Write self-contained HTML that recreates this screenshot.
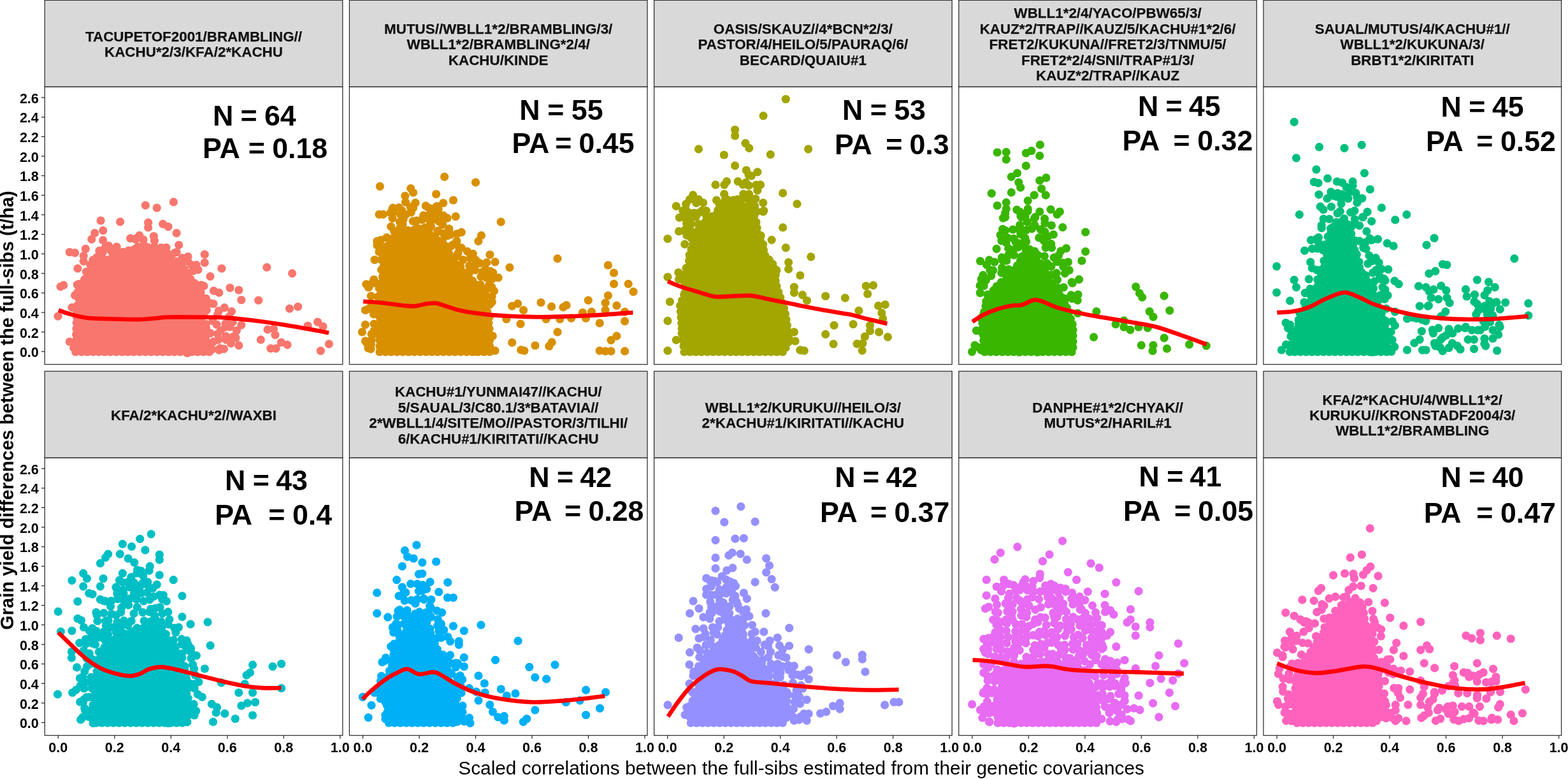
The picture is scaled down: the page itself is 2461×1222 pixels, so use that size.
<!DOCTYPE html><html><head><meta charset="utf-8"><title>Grain yield differences between full-sibs</title><style>html,body{margin:0;padding:0;background:#fff;overflow:hidden}svg{display:block}text{font-family:"Liberation Sans",Arial,sans-serif}</style></head><body>
<svg width="2461" height="1222" viewBox="0 0 2461 1222">
<rect width="2461" height="1222" fill="#fff"/>
<defs>
<clipPath id="c0"><rect x="70.2" y="136.3" width="467.6" height="435.3"/></clipPath>
<clipPath id="c1"><rect x="548.4" y="136.3" width="467.6" height="435.3"/></clipPath>
<clipPath id="c2"><rect x="1026.6" y="136.3" width="467.6" height="435.3"/></clipPath>
<clipPath id="c3"><rect x="1504.8" y="136.3" width="467.6" height="435.3"/></clipPath>
<clipPath id="c4"><rect x="1983" y="136.3" width="467.6" height="435.3"/></clipPath>
<clipPath id="c5"><rect x="70.2" y="718.3" width="467.6" height="435.3"/></clipPath>
<clipPath id="c6"><rect x="548.4" y="718.3" width="467.6" height="435.3"/></clipPath>
<clipPath id="c7"><rect x="1026.6" y="718.3" width="467.6" height="435.3"/></clipPath>
<clipPath id="c8"><rect x="1504.8" y="718.3" width="467.6" height="435.3"/></clipPath>
<clipPath id="c9"><rect x="1983" y="718.3" width="467.6" height="435.3"/></clipPath>
</defs>
<rect x="70.2" y="0.4" width="467.6" height="135.9" fill="#D9D9D9" stroke="#333" stroke-width="1.3"/>
<text x="304" y="64.9" font-size="22.4" font-weight="bold" fill="#111" stroke="#111" stroke-width="0.25" text-anchor="middle">TACUPETOF2001/BRAMBLING//</text>
<text x="304" y="89.3" font-size="22.4" font-weight="bold" fill="#111" stroke="#111" stroke-width="0.25" text-anchor="middle">KACHU*2/3/KFA/2*KACHU</text>
<rect x="70.2" y="136.3" width="467.6" height="435.3" fill="#fff"/>
<g clip-path="url(#c0)" fill="#F8766D">
<path d="M118.8 552 331.2 552 324.2 532.2 314.4 512.6 314.2 512 314 511.4 313.8 510.8 313.8 510.1 313.8 509.5 313.9 508.8 318.7 479.9 314.2 452.8 295.6 434.2 295.1 433.7 294.7 433.2 294.4 432.6 285.3 414.4 267.2 405.3 247.2 395.4 229.2 386.4 211.4 390.8 192.1 395.6 153 415.2 140.1 423.8 130.7 451.8 121 480.9 118.8 552Z"/>
<path d="M118.8 552h0M127.9 552h0M137 552h0M146.1 552h0M155.2 552h0M164.3 552h0M173.4 552h0M182.6 552h0M191.7 552h0M200.8 552h0M209.9 552h0M219 552h0M228.1 552h0M237.2 552h0M246.4 552h0M255.5 552h0M264.6 552h0M273.7 552h0M282.8 552h0M291.9 552h0M301 552h0M310.2 552h0M319.3 552h0M328.4 552h0M329.1 546.1h0M326.1 537.5h0M322.7 529.1h0M318.6 520.9h0M314.5 512.8h0M314.7 503.8h0M316.2 494.9h0M317.7 485.9h0M318.2 476.9h0M316.7 467.9h0M315.2 458.9h0M312.1 450.7h0M305.7 444.3h0M299.2 437.8h0M293.5 430.8h0M289.5 422.7h0M285.4 414.5h0M277.3 410.4h0M269.1 406.3h0M261 402.2h0M252.8 398.2h0M244.7 394.1h0M236.5 390h0M228.3 386.6h0M219.4 388.8h0M210.6 391h0M201.7 393.2h0M192.9 395.4h0M184.7 399.3h0M176.5 403.4h0M168.4 407.5h0M160.2 411.6h0M152.1 415.8h0M144.6 420.8h0M138.9 427.3h0M136 436h0M133.1 444.6h0M130.2 453.3h0M127.4 461.9h0M124.5 470.6h0M121.6 479.2h0M120.8 488.2h0M120.5 497.3h0M120.2 506.4h0M119.9 515.6h0M119.6 524.7h0M119.3 533.8h0M119 542.9h0" stroke="#F8766D" stroke-width="13.2" stroke-linecap="round" fill="none"/>
<path d="M204.6 373.8h0M213.9 374h0M225 376h0M242.4 377.7h0M165.2 388.3h0M170.6 385.7h0M183.1 387.2h0M216.3 387.1h0M224.2 385.9h0M232.2 387.8h0M242.4 387.2h0M252.7 388.6h0M260.9 388.4h0M155.9 393.4h0M161.1 395.9h0M174.2 393.2h0M184.1 398.9h0M250.6 392.5h0M262.1 396.9h0M274.1 396.7h0M145.9 407.8h0M151.9 403.7h0M161.2 405.8h0M285.9 404.6h0M141.8 415.4h0M151.6 415.5h0M300.3 415.5h0M135.4 426.3h0M295.1 428.7h0M303.3 424.9h0M310.9 423.2h0M132.5 438.4h0M123.7 445.7h0M316 447h0M320 448.7h0M121.8 458.4h0M323.4 468.3h0M321.7 475.8h0M330.6 475.9h0M324.2 486.5h0M343.4 487.5h0M352.3 482.6h0M363.6 488.7h0M319.8 495.3h0M341.4 494h0M359.8 496.8h0M315.5 507.4h0M323.2 508.3h0M334.1 503.5h0M340.1 509h0M354 507.6h0M362.9 504.6h0M315.2 513.4h0M323.5 514.3h0M346.2 519.2h0M353.8 513.2h0M361 512.6h0M371.4 518.5h0M330.1 522.6h0M341.5 523.8h0M355 527.7h0M366.1 528.1h0M334.9 536.1h0M342.3 533.2h0M354.7 532.8h0M362.4 538.7h0M115.7 545.7h0M333 547.8h0M345.1 546.4h0M351.4 547.3h0" stroke="#F8766D" stroke-width="13.2" stroke-linecap="round" fill="none"/>
<path d="M272.4 316.9h0M228.3 322.1h0M246.2 326h0M158.1 346h0M188.6 347.9h0M232.6 349.1h0M232.6 356.9h0M255.7 351.4h0M264 355.7h0M277.1 365.7h0M161.7 361.7h0M148.6 365.7h0M143.8 375.3h0M161.7 376.9h0M241.4 370.5h0M218.8 369.3h0M212.9 375.3h0M280.7 384.3h0M277.1 395.5h0M109.3 395.5h0M117.6 396.7h0M134.3 390.3h0M131.2 401.4h0M131.2 409.8h0M153.3 407.4h0M121.9 421.2h0M295 402.6h0M295 409.8h0M308.1 415.7h0M321.2 399.1h0M321.2 412.2h0M347.9 421.2h0M330 433.6h0M418.8 419.3h0M458.6 428.8h0M95 449.6h0M99.8 447.4h0M121.2 446.7h0M117.6 463.4h0M112.9 482.4h0M91 496.2h0M335.5 456.2h0M343.8 459.1h0M361 451.5h0M374.8 455h0M378.8 470.5h0M405.7 471.2h0M335 476.5h0M454.5 484.1h0M467.6 481.2h0M498.6 505h0M506.9 512.2h0M483.1 511h0M378.8 509.8h0M365.2 505h0M420 516.9h0M429.5 515.8h0M431.9 525.3h0M370 530h0M353.3 530h0M409.3 532.9h0M374.8 541.9h0M441.4 537.2h0M451 540.8h0M424.8 546.7h0M433.1 546.7h0M516.4 539.6h0M503.3 550.3h0M343.8 549.1h0M109.3 536h0M293.8 553.9h0M315.2 549.1h0" stroke="#F8766D" stroke-width="13.2" stroke-linecap="round" fill="none"/>
<path d="M91.9 486.5C94.5 487.4 100.2 490 107.4 492C114.6 494 124.2 497 134.9 498.4C145.6 499.8 157.7 499.8 171.4 500.2C185.1 500.6 204.9 501.2 217.1 501.1C229.3 501 237 499.9 244.6 499.3C252.2 498.7 252.1 497.8 262.8 497.5C273.5 497.2 293.4 497.4 308.6 497.5C323.9 497.6 339.1 497.5 354.3 498.4C369.5 499.3 384.8 501.2 400 503C415.2 504.8 432 507.3 445.7 509.4C459.4 511.5 470.6 513.7 482.3 515.8C494 517.9 510.5 521.1 516.1 522.2" stroke="#FF0000" stroke-width="6.6" fill="none" stroke-linejoin="round"/>
</g>
<rect x="70.2" y="136.3" width="467.6" height="435.3" fill="none" stroke="#333" stroke-width="1.3"/>
<text x="333.9" y="196.8" font-size="44.7" font-weight="bold" fill="#000">N</text>
<text x="377.5" y="196.8" font-size="44.7" font-weight="bold" fill="#000">=</text>
<text x="415" y="196.8" font-size="44.7" font-weight="bold" fill="#000">64</text>
<text x="318" y="248.3" font-size="44.7" font-weight="bold" fill="#000">PA</text>
<text x="389.7" y="248.3" font-size="44.7" font-weight="bold" fill="#000">=</text>
<text x="427.2" y="248.3" font-size="44.7" font-weight="bold" fill="#000">0.18</text>
<rect x="548.4" y="0.4" width="467.6" height="135.9" fill="#D9D9D9" stroke="#333" stroke-width="1.3"/>
<text x="782.2" y="52.7" font-size="22.4" font-weight="bold" fill="#111" stroke="#111" stroke-width="0.25" text-anchor="middle">MUTUS//WBLL1*2/BRAMBLING/3/</text>
<text x="782.2" y="77.1" font-size="22.4" font-weight="bold" fill="#111" stroke="#111" stroke-width="0.25" text-anchor="middle">WBLL1*2/BRAMBLING*2/4/</text>
<text x="782.2" y="101.5" font-size="22.4" font-weight="bold" fill="#111" stroke="#111" stroke-width="0.25" text-anchor="middle">KACHU/KINDE</text>
<rect x="548.4" y="136.3" width="467.6" height="435.3" fill="#fff"/>
<g clip-path="url(#c1)" fill="#D89000">
<path d="M595.9 552 768.6 552 768.6 520.2 763.7 481.2 754.4 453.2 715.4 414.2 714.8 413.5 699.8 393.6 685.6 374.5 663 361 640.9 361 618.9 369.8 605.6 391.9 600.8 430.6 595.9 480.2 595.9 552Z"/>
<path d="M595.9 552h0M605 552h0M614 552h0M623.1 552h0M632.2 552h0M641.3 552h0M650.4 552h0M659.5 552h0M668.6 552h0M677.7 552h0M686.8 552h0M695.9 552h0M705 552h0M714.1 552h0M723.2 552h0M732.3 552h0M741.4 552h0M750.5 552h0M759.6 552h0M768.6 551.9h0M768.6 542.8h0M768.6 533.7h0M768.6 524.6h0M768 515.6h0M766.9 506.6h0M765.7 497.5h0M764.6 488.5h0M763.2 479.6h0M760.3 470.9h0M757.4 462.3h0M754.5 453.7h0M748.3 447.1h0M741.9 440.7h0M735.4 434.3h0M729 427.8h0M722.6 421.4h0M716.2 415h0M710.5 407.8h0M705.1 400.6h0M699.6 393.3h0M694.2 386h0M688.7 378.7h0M682.3 372.5h0M674.5 367.9h0M666.7 363.2h0M658.2 361h0M649.1 361h0M640.1 361.4h0M631.6 364.7h0M623.2 368.1h0M616.6 373.7h0M611.9 381.5h0M607.2 389.3h0M604.9 397.9h0M603.8 406.9h0M602.6 415.9h0M601.5 425h0M600.5 434h0M599.6 443h0M598.7 452.1h0M597.8 461.1h0M596.9 470.2h0M596 479.2h0M595.9 488.3h0M595.9 497.4h0M595.9 506.5h0M595.9 515.6h0M595.9 524.7h0M595.9 533.8h0M595.9 542.9h0" stroke="#D89000" stroke-width="13.2" stroke-linecap="round" fill="none"/>
<path d="M636.5 317.2h0M652 318.2h0M615.8 328.3h0M626.1 325.7h0M644.2 324.8h0M668.2 322.9h0M677.2 327.5h0M688 328.1h0M616.7 333.5h0M628.6 336.5h0M645.2 333.2h0M664.6 337.9h0M672.7 338.1h0M684 336.2h0M695.8 338.2h0M616 342.3h0M627.6 348.2h0M633.1 344.3h0M648.1 346.8h0M653.9 346h0M663.7 343.4h0M675.2 347.7h0M688.8 347.4h0M694.1 347.4h0M628.4 355.8h0M658.5 358.9h0M667 356.8h0M676.5 355.1h0M694.7 352.3h0M704.9 358.9h0M618.7 362.6h0M622 366.2h0M672.5 363.1h0M686.7 363.5h0M696.1 366h0M707.7 367.9h0M717 366.9h0M597.8 376.6h0M606.8 372.6h0M687.7 377.3h0M694.3 377.6h0M716.9 378.2h0M598.7 388h0M607 386.5h0M697.7 385h0M707 386.5h0M724.1 388.7h0M595 395.2h0M704.9 397.8h0M718.8 397.4h0M733.4 394.3h0M588 407.5h0M598.4 407.4h0M708.4 403.6h0M715.9 402.6h0M726.7 407.6h0M737.8 404.9h0M746.8 407.9h0M722.7 417.8h0M736.6 416.9h0M742.8 418h0M753.2 412.9h0M598.7 423.2h0M737.3 426.7h0M745.9 423.6h0M757.4 426.5h0M762 422.6h0M773.7 427.6h0M586.8 438.5h0M754.8 433.8h0M773 437.3h0M578.2 447.2h0M585 444.2h0M754.1 446.6h0M767.7 446.7h0M595 452.1h0M764 453.3h0M775.4 456.5h0M582.3 464.3h0M593 465.5h0M762.3 462.7h0M772 465.3h0M583.2 476.1h0M594.5 475.2h0M768.9 477.5h0M772.3 473.7h0M578.4 484.3h0M586.1 484h0M586.5 492.9h0M768.2 497.1h0M587 508.1h0M587.6 517.4h0M583.1 524h0M591.9 523.7h0M773.3 527h0M575.4 537.6h0M583.2 532.9h0M577.9 546.1h0M582 547.3h0" stroke="#D89000" stroke-width="13.2" stroke-linecap="round" fill="none"/>
<path d="M697.6 277.3h0M746.5 286.2h0M596.3 292.3h0M644.7 295.6h0M648.5 302h0M635.8 307.3h0M684.6 304.5h0M711.4 314h0M695.6 318.5h0M685.4 323.6h0M616.7 326.2h0M612.9 333.8h0M595.1 336.4h0M601.4 336.4h0M630.7 330h0M637.1 336.4h0M648.5 326.2h0M672.7 326.2h0M682.9 338.9h0M682.9 344h0M702 342.2h0M715.2 339.7h0M662 344.7h0M786.2 348.1h0M613.7 355.4h0M632 351.6h0M653.6 358h0M675.2 356.7h0M687.4 361.8h0M702 369.9h0M724.3 364.3h0M755.4 369.4h0M750.8 378.3h0M591.8 378.3h0M591.8 384.7h0M621.8 392.3h0M615.4 400h0M710.9 383.9h0M721 389.8h0M742.2 398.2h0M768.9 399.5h0M763.8 411.9h0M777 410.9h0M799.9 419.6h0M875 405.6h0M954.4 416h0M963.5 428h0M963.5 445.3h0M986.2 445.3h0M994.1 457.7h0M574.7 445.8h0M578.5 450.9h0M586.2 441.2h0M595.1 445.8h0M769.4 425.4h0M763 435.6h0M782.1 435.6h0M771.9 450.4h0M755.4 453.9h0M573.4 486.5h0M812.6 476.3h0M803.7 480.1h0M821.6 486.5h0M849 474.5h0M865.6 480.9h0M883.9 481.9h0M889 478.9h0M923.3 471.2h0M954.4 463.6h0M950.1 475.1h0M967.9 479.4h0M950.1 486.5h0M980.6 489.1h0M914.4 490.3h0M928.4 489.1h0M919.5 499.2h0M794.8 500.5h0M857.2 500.5h0M878.8 500.5h0M896.6 499.2h0M941.2 506.9h0M980.6 503.8h0M817 508.1h0M573.4 509.4h0M568.4 520.9h0M875 520.9h0M967.9 527.2h0M959 533.6h0M573.4 534.9h0M582.4 540h0M803.7 537.4h0M866.1 536.9h0M861.8 543h0M839.9 542h0M817.7 548.9h0M822.8 550.1h0M941.2 550.1h0M950.1 550.9h0M959 550.9h0M980.6 550.9h0M746.5 551.4h0M777 550.1h0" stroke="#D89000" stroke-width="13.2" stroke-linecap="round" fill="none"/>
<path d="M570.1 472.9C574.5 473.2 586.1 473.6 596.6 474.7C607.1 475.8 624 478.4 633.1 479.3C642.2 480.2 645.3 480.7 651.4 480.2C657.5 479.7 664.2 477.3 669.7 476.5C675.2 475.7 679.7 475.1 684.3 475.6C688.9 476.1 690.4 477.3 697.1 479.3C703.8 481.3 713.9 485.2 724.6 487.5C735.3 489.8 748.9 491.6 761.1 493C773.3 494.4 782.5 495 797.7 495.7C813 496.4 834.3 497.2 852.6 497.2C870.9 497.2 892.2 496.2 907.4 495.7C922.6 495.1 929.7 494.8 944 493.9C958.3 493 985.2 490.8 993.4 490.2" stroke="#FF0000" stroke-width="6.6" fill="none" stroke-linejoin="round"/>
</g>
<rect x="548.4" y="136.3" width="467.6" height="435.3" fill="none" stroke="#333" stroke-width="1.3"/>
<text x="815.3" y="187.9" font-size="44.7" font-weight="bold" fill="#000">N</text>
<text x="859.3" y="187.9" font-size="44.7" font-weight="bold" fill="#000">=</text>
<text x="896.8" y="187.9" font-size="44.7" font-weight="bold" fill="#000">55</text>
<text x="803.5" y="240.4" font-size="44.7" font-weight="bold" fill="#000">PA</text>
<text x="871.3" y="240.4" font-size="44.7" font-weight="bold" fill="#000">=</text>
<text x="908.6" y="240.4" font-size="44.7" font-weight="bold" fill="#000">0.45</text>
<rect x="1026.6" y="0.4" width="467.6" height="135.9" fill="#D9D9D9" stroke="#333" stroke-width="1.3"/>
<text x="1260.4" y="52.7" font-size="22.4" font-weight="bold" fill="#111" stroke="#111" stroke-width="0.25" text-anchor="middle">OASIS/SKAUZ//4*BCN*2/3/</text>
<text x="1260.4" y="77.1" font-size="22.4" font-weight="bold" fill="#111" stroke="#111" stroke-width="0.25" text-anchor="middle">PASTOR/4/HEILO/5/PAURAQ/6/</text>
<text x="1260.4" y="101.5" font-size="22.4" font-weight="bold" fill="#111" stroke="#111" stroke-width="0.25" text-anchor="middle">BECARD/QUAIU#1</text>
<rect x="1026.6" y="136.3" width="467.6" height="435.3" fill="#fff"/>
<g clip-path="url(#c2)" fill="#A3A500">
<path d="M1073.9 552 1230.1 552 1238.3 534.1 1235 507.7 1231.6 487.1 1217.7 445.3 1217.5 444.6 1217.4 444 1217.3 443.3 1217.3 423.6 1211.4 411.7 1201.5 401.8 1201.1 401.3 1200.7 400.9 1200.4 400.3 1200.2 399.8 1200 399.2 1199.8 398.7 1196.5 381.8 1189.8 368.5 1189.5 367.8 1189.3 367.2 1189.2 366.5 1186.3 343.6 1181.1 343.6 1180.5 343.6 1179.9 343.5 1179.3 343.3 1178.7 343.1 1178.2 342.9 1177.7 342.5 1177.2 342.2 1176.7 341.7 1176.3 341.3 1176 340.8 1175.7 340.2 1169.1 327 1157 314.9 1144.8 312.5 1133 327.2 1132.6 327.7 1118.5 341.8 1118 342.2 1117.5 342.6 1098 355.6 1088.2 381.9 1081.5 402 1081.5 422.2 1081.4 422.9 1077.9 451.1 1077.8 451.8 1077.5 452.5 1067.5 479.5 1070.9 520.4 1073.9 552Z"/>
<path d="M1073.9 552h0M1082.9 552h0M1092 552h0M1101.1 552h0M1110.2 552h0M1119.3 552h0M1128.4 552h0M1137.4 552h0M1146.5 552h0M1155.6 552h0M1164.7 552h0M1173.8 552h0M1182.9 552h0M1191.9 552h0M1201 552h0M1210.1 552h0M1219.2 552h0M1228.3 552h0M1233.1 545.4h0M1236.9 537.2h0M1237.6 528.4h0M1236.5 519.4h0M1235.4 510.4h0M1234 501.4h0M1232.5 492.5h0M1230.5 483.6h0M1227.6 475h0M1224.7 466.4h0M1221.8 457.8h0M1219 449.2h0M1217.3 440.3h0M1217.3 431.2h0M1216.7 422.3h0M1212.6 414.2h0M1207 407.2h0M1200.7 400.7h0M1198.5 391.9h0M1196.7 383h0M1193 374.8h0M1189.2 366.5h0M1188.1 357.5h0M1186.9 348.5h0M1182.2 343.6h0M1175.1 339.1h0M1171.1 331h0M1165.8 323.7h0M1159.4 317.3h0M1151.4 313.8h0M1143.3 314.3h0M1137.6 321.4h0M1131.9 328.4h0M1125.4 334.9h0M1119 341.3h0M1111.6 346.5h0M1104.1 351.6h0M1097.4 357.3h0M1094.2 365.8h0M1091 374.3h0M1087.8 382.8h0M1085 391.4h0M1082.1 400.1h0M1081.5 409h0M1081.5 418.1h0M1080.9 427.2h0M1079.8 436.2h0M1078.6 445.2h0M1077 454.1h0M1073.8 462.6h0M1070.6 471.1h0M1067.5 479.6h0M1068.2 488.7h0M1069 497.7h0M1069.7 506.8h0M1070.5 515.8h0M1071.3 524.9h0M1072.1 533.9h0M1073 543h0" stroke="#A3A500" stroke-width="13.2" stroke-linecap="round" fill="none"/>
<path d="M1175.1 274.5h0M1136.8 289.8h0M1166.1 289.6h0M1175.2 291h0M1186.9 290h0M1136.7 304.4h0M1166.8 304.3h0M1175.7 304.5h0M1124.5 314h0M1138.1 313.7h0M1157.7 312.8h0M1167.2 311.2h0M1176.4 314.3h0M1185.9 311.8h0M1076.7 320.1h0M1092.8 318.3h0M1128.8 319.6h0M1175 322.2h0M1184.6 322.9h0M1076 328h0M1082.6 334h0M1096.5 334h0M1108.4 330.7h0M1126.7 329.6h0M1177.3 327.9h0M1188 331.9h0M1197.8 332h0M1066.4 341.3h0M1075.6 341.9h0M1085.3 342.6h0M1092.4 339.4h0M1108.5 338.6h0M1117.6 339.6h0M1176.2 340.9h0M1183.5 339.1h0M1077.6 350.4h0M1084.2 351.9h0M1096 351.1h0M1107.1 348h0M1076.3 359.7h0M1086.9 363.8h0M1077.9 369.1h0M1085.5 373.9h0M1194.2 369.7h0M1074.8 383.2h0M1197.7 383.5h0M1077 420.7h0M1218.8 424h0M1074.6 430.8h0M1065.6 438h0M1074.7 442.9h0M1074.7 460.2h0" stroke="#A3A500" stroke-width="13.2" stroke-linecap="round" fill="none"/>
<path d="M1233.3 155.5h0M1198.1 181.6h0M1153.6 203.5h0M1153.6 213h0M1096.5 233.8h0M1169.9 224.6h0M1175.8 232.4h0M1136.4 243h0M1209.3 242.3h0M1268.6 233.8h0M1153.6 259.9h0M1171.3 267h0M1188.9 269.8h0M1179.4 275.8h0M1140.6 284.6h0M1123 289.9h0M1158.2 284.6h0M1170.6 286.4h0M1193.5 289.9h0M1188.9 298.7h0M1228.7 302.9h0M1087.7 305.8h0M1082.4 312.8h0M1096.5 312.8h0M1103.6 318.1h0M1061.3 323.4h0M1071.8 330.5h0M1140.6 312.8h0M1167 309.3h0M1181.1 316.4h0M1197.7 318.1h0M1251 319.9h0M1198.8 330.5h0M1089.5 334h0M1101.8 330.5h0M1228.7 356.9h0M1065.5 362.9h0M1073.6 362.2h0M1047.9 374.5h0M1211.1 376.3h0M1233.3 388.7h0M1272.8 402.8h0M1237.6 411.6h0M1237.6 422.2h0M1064.8 427.5h0M1047.9 434.5h0M1255.9 432h0M1246.4 450.4h0M1246.4 459.2h0M1359.2 448.6h0M1370.5 447.6h0M1361.7 461h0M1259.4 462.7h0M1266.5 471.5h0M1295.7 464.5h0M1326.4 467.3h0M1378.6 479.7h0M1389.2 477.9h0M1347.9 487.4h0M1383.9 490.9h0M1385.6 499.8h0M1051.4 473.3h0M1047.9 503.3h0M1070.1 499.8h0M1070.1 515.6h0M1070.1 522.7h0M1061.3 533.3h0M1047.9 550.2h0M1309.1 510.3h0M1339.1 508.6h0M1365.5 510.3h0M1365.5 519.2h0M1379.6 520.9h0M1295.7 524.4h0M1357.4 528h0M1393.4 528.7h0M1353.9 538.6h0M1308.1 539.6h0M1345.1 539.3h0M1353.2 549.8h0M1255.9 549.1h0M1262.2 550.2h0M1246.4 520.9h0M1248.1 535h0" stroke="#A3A500" stroke-width="13.2" stroke-linecap="round" fill="none"/>
<path d="M1048 441.2C1051.5 442.7 1060.9 447.1 1069.3 450C1077.7 452.9 1089.7 456.2 1098.5 458.8C1107.3 461.4 1113.4 464.3 1121.9 465.3C1130.4 466.3 1140.2 464.8 1149.7 464.6C1159.2 464.4 1169.2 463 1179 463.9C1188.8 464.8 1197.2 467.5 1208.2 469.7C1219.2 471.9 1231.4 474.4 1244.8 477.1C1258.2 479.8 1274.1 483.1 1288.7 485.8C1303.3 488.5 1320.4 490.7 1332.6 493.1C1344.8 495.6 1351.8 498.1 1361.8 500.5C1371.8 502.9 1387.4 506.6 1392.5 507.8" stroke="#FF0000" stroke-width="6.6" fill="none" stroke-linejoin="round"/>
</g>
<rect x="1026.6" y="136.3" width="467.6" height="435.3" fill="none" stroke="#333" stroke-width="1.3"/>
<text x="1322" y="188.1" font-size="44.7" font-weight="bold" fill="#000">N</text>
<text x="1365.7" y="188.1" font-size="44.7" font-weight="bold" fill="#000">=</text>
<text x="1403.2" y="188.1" font-size="44.7" font-weight="bold" fill="#000">53</text>
<text x="1309.9" y="242" font-size="44.7" font-weight="bold" fill="#000">PA</text>
<text x="1390.2" y="242" font-size="44.7" font-weight="bold" fill="#000">=</text>
<text x="1427.5" y="242" font-size="44.7" font-weight="bold" fill="#000">0.3</text>
<rect x="1504.8" y="0.4" width="467.6" height="135.9" fill="#D9D9D9" stroke="#333" stroke-width="1.3"/>
<text x="1738.6" y="28.3" font-size="22.4" font-weight="bold" fill="#111" stroke="#111" stroke-width="0.25" text-anchor="middle">WBLL1*2/4/YACO/PBW65/3/</text>
<text x="1738.6" y="52.7" font-size="22.4" font-weight="bold" fill="#111" stroke="#111" stroke-width="0.25" text-anchor="middle">KAUZ*2/TRAP//KAUZ/5/KACHU#1*2/6/</text>
<text x="1738.6" y="77.1" font-size="22.4" font-weight="bold" fill="#111" stroke="#111" stroke-width="0.25" text-anchor="middle">FRET2/KUKUNA//FRET2/3/TNMU/5/</text>
<text x="1738.6" y="101.5" font-size="22.4" font-weight="bold" fill="#111" stroke="#111" stroke-width="0.25" text-anchor="middle">FRET2*2/4/SNI/TRAP#1/3/</text>
<text x="1738.6" y="125.9" font-size="22.4" font-weight="bold" fill="#111" stroke="#111" stroke-width="0.25" text-anchor="middle">KAUZ*2/TRAP//KAUZ</text>
<rect x="1504.8" y="136.3" width="467.6" height="435.3" fill="#fff"/>
<g clip-path="url(#c3)" fill="#39B600">
<path d="M1545.6 552 1684.1 552 1684.1 511.1 1674.5 482.5 1665 463.4 1635.3 423.8 1635 423.3 1634.7 422.8 1620.4 394.3 1612.5 389 1605.6 402.8 1605.2 403.5 1585.2 433.5 1584.8 434 1584.4 434.5 1584 434.9 1560 454.1 1546 482 1541.3 510.3 1545.6 552Z"/>
<path d="M1545.6 552h0M1554.7 552h0M1563.8 552h0M1572.9 552h0M1582 552h0M1591.1 552h0M1600.2 552h0M1609.3 552h0M1618.4 552h0M1627.5 552h0M1636.6 552h0M1645.7 552h0M1654.8 552h0M1663.9 552h0M1673 552h0M1682.1 552h0M1684.1 544.9h0M1684.1 535.8h0M1684.1 526.6h0M1684.1 517.5h0M1683.2 508.6h0M1680.4 500h0M1677.5 491.3h0M1674.6 482.7h0M1670.6 474.5h0M1666.5 466.4h0M1661.5 458.8h0M1656.1 451.5h0M1650.6 444.2h0M1645.2 437h0M1639.7 429.7h0M1634.4 422.3h0M1630.4 414.1h0M1626.3 406h0M1622.2 397.9h0M1616.2 391.4h0M1610.4 393.2h0M1606.3 401.4h0M1601.5 409.1h0M1596.5 416.6h0M1591.4 424.2h0M1586.4 431.8h0M1579.9 438.1h0M1572.8 443.8h0M1565.7 449.5h0M1559.2 455.6h0M1555.1 463.8h0M1551.1 471.9h0M1547 480h0M1544.9 488.8h0M1543.4 497.8h0M1541.9 506.8h0M1541.8 515.8h0M1542.8 524.8h0M1543.7 533.9h0M1544.7 542.9h0" stroke="#39B600" stroke-width="13.2" stroke-linecap="round" fill="none"/>
<path d="M1577.7 334.4h0M1600.8 332.4h0M1613 331.4h0M1577.7 340.7h0M1601.9 338.7h0M1609.1 339.1h0M1623.4 342.7h0M1639.6 343.1h0M1600.7 353h0M1612.3 348.1h0M1624 353.5h0M1640 350.1h0M1650.4 353.7h0M1573.6 359.3h0M1577.9 361.5h0M1589.8 360h0M1601.2 362.2h0M1610.9 360.8h0M1619.6 358.8h0M1633 359.8h0M1639.8 363.5h0M1570.1 368.6h0M1581.7 373.2h0M1591 374.4h0M1601.9 367.5h0M1608.9 373.4h0M1630.8 372.9h0M1640.3 372.1h0M1571.9 377.5h0M1579.2 380.5h0M1594 379.5h0M1600.8 381.8h0M1610.6 379h0M1638.3 377.5h0M1649.8 382.6h0M1564.1 390.3h0M1582.7 389.7h0M1590.7 391.8h0M1598 387.9h0M1610.2 389h0M1623.8 394h0M1641.2 388.3h0M1650.6 388.7h0M1572.4 403.9h0M1582.9 400h0M1591.5 400.2h0M1603.7 402.3h0M1628.9 400h0M1639.3 401.8h0M1654.3 404.2h0M1661.4 401h0M1552.6 407.9h0M1573.2 407.9h0M1579.7 408.9h0M1632.8 413.3h0M1643.3 413.2h0M1659.3 410.7h0M1668.4 412.4h0M1553.9 423.6h0M1558.7 424.1h0M1572.6 420h0M1583 422.6h0M1641.1 420.4h0M1650 417.8h0M1668.8 418.3h0M1678.2 423.9h0M1542.9 431.6h0M1572 428h0M1578.8 431h0M1643.6 431.4h0M1650.2 431.2h0M1658.2 428.4h0M1671.4 428.8h0M1540.2 437.9h0M1547.5 439.6h0M1571.4 442.6h0M1659.6 438.8h0M1683.2 444.2h0M1538.1 447.9h0M1564.4 449.1h0M1661.3 451.9h0M1669.4 450.8h0M1538.3 459.5h0M1550 462.2h0M1681.1 462.8h0M1692 462h0M1547.8 472.6h0M1671 468.4h0M1682.6 468.3h0M1691.2 471.1h0M1544 492h0M1691.6 491.3h0M1539.5 499.1h0M1532.4 518.6h0M1538.8 518.7h0M1534 544.3h0M1542.6 544.1h0M1539.9 549.1h0M1599.7 552.4h0M1628.5 552.4h0" stroke="#39B600" stroke-width="13.2" stroke-linecap="round" fill="none"/>
<path d="M1632.4 227.2h0M1565.2 239h0M1579.3 238.7h0M1610.3 240.1h0M1618.9 236.7h0M1631.8 244.4h0M1579.3 250.2h0M1610.3 260.2h0M1596.5 271.7h0M1587.3 277.4h0M1598.8 286.1h0M1601.7 294.1h0M1641.9 278.9h0M1631.8 283.2h0M1556.3 303.3h0M1587.3 301.9h0M1634.7 296.1h0M1641.3 306.2h0M1623.2 306.2h0M1613.2 314.8h0M1579.3 317.7h0M1565.2 322.5h0M1579.3 327.7h0M1595.9 329.1h0M1613.2 327.7h0M1631.8 332h0M1649.1 328.6h0M1663.4 332h0M1659.1 336.3h0M1574.4 342.1h0M1603.1 340.6h0M1624.7 340.6h0M1667.8 356.7h0M1703.7 364.2h0M1653.4 367.9h0M1644.8 370.8h0M1664.9 393.8h0M1673.5 389.5h0M1703.7 394.6h0M1697.9 409h0M1538.5 409.6h0M1548.5 415.3h0M1560.9 411h0M1676.4 411h0M1555.7 432.6h0M1693.6 438.3h0M1544.2 448.4h0M1682.1 442.6h0M1782.7 449.8h0M1788.4 459.8h0M1792.7 466.4h0M1827.2 464.1h0M1835.8 487.1h0M1804.2 488.6h0M1810 497.2h0M1720.9 488.6h0M1751.1 508.7h0M1764 502.9h0M1764 513h0M1774 517.3h0M1787 513h0M1801.3 514.4h0M1716.6 528.8h0M1827.2 530.2h0M1791.3 541.7h0M1810 541.7h0M1809.1 550.3h0M1831.5 546.9h0M1866.6 540.3h0M1893.3 542.3h0M1529.9 541.7h0M1525.5 551.8h0M1550 550.3h0" stroke="#39B600" stroke-width="13.2" stroke-linecap="round" fill="none"/>
<path d="M1526.2 504.8C1529 503 1536.5 497.4 1543.2 494C1549.9 490.6 1558.6 487.1 1566.3 484.7C1574 482.2 1583.3 480.3 1589.5 479.3C1595.7 478.3 1598 479.9 1603.4 478.5C1608.8 477.1 1616.8 471.8 1621.9 470.8C1627.1 469.8 1628.1 470.5 1634.3 472.4C1640.5 474.3 1649.7 479.4 1659 482.4C1668.3 485.3 1679.6 487.8 1689.9 490.1C1700.2 492.4 1707.8 494 1720.7 496.3C1733.6 498.6 1751.6 501.3 1767.1 504C1782.5 506.7 1798 508.5 1813.4 512.5C1828.8 516.5 1846.3 523.3 1859.7 527.9C1873.1 532.5 1888 538.2 1893.7 540.3" stroke="#FF0000" stroke-width="6.6" fill="none" stroke-linejoin="round"/>
</g>
<rect x="1504.8" y="136.3" width="467.6" height="435.3" fill="none" stroke="#333" stroke-width="1.3"/>
<text x="1786.1" y="181.9" font-size="44.7" font-weight="bold" fill="#000">N</text>
<text x="1829.6" y="181.9" font-size="44.7" font-weight="bold" fill="#000">=</text>
<text x="1865.9" y="181.9" font-size="44.7" font-weight="bold" fill="#000">45</text>
<text x="1761.5" y="235.8" font-size="44.7" font-weight="bold" fill="#000">PA</text>
<text x="1841.6" y="235.8" font-size="44.7" font-weight="bold" fill="#000">=</text>
<text x="1879.3" y="235.8" font-size="44.7" font-weight="bold" fill="#000">0.32</text>
<rect x="1983" y="0.4" width="467.6" height="135.9" fill="#D9D9D9" stroke="#333" stroke-width="1.3"/>
<text x="2216.8" y="52.7" font-size="22.4" font-weight="bold" fill="#111" stroke="#111" stroke-width="0.25" text-anchor="middle">SAUAL/MUTUS/4/KACHU#1//</text>
<text x="2216.8" y="77.1" font-size="22.4" font-weight="bold" fill="#111" stroke="#111" stroke-width="0.25" text-anchor="middle">WBLL1*2/KUKUNA/3/</text>
<text x="2216.8" y="101.5" font-size="22.4" font-weight="bold" fill="#111" stroke="#111" stroke-width="0.25" text-anchor="middle">BRBT1*2/KIRITATI</text>
<rect x="1983" y="136.3" width="467.6" height="435.3" fill="#fff"/>
<g clip-path="url(#c4)" fill="#00BF7D">
<path d="M2032.1 552 2178.6 552 2174.4 511.5 2164.7 482.5 2134.9 422.8 2134.6 422 2124.6 392 2124.4 391.5 2124.3 391 2119.6 358 2108.5 346.8 2094.9 350.2 2086.3 371.6 2081.4 410.9 2081.3 411.6 2081.1 412.3 2066 452.3 2065.8 452.9 2036.3 511.9 2032.1 552Z"/>
<path d="M2032.1 552h0M2041.1 552h0M2050.1 552h0M2059.1 552h0M2068.1 552h0M2077.2 552h0M2086.2 552h0M2095.2 552h0M2104.2 552h0M2113.2 552h0M2122.2 552h0M2131.2 552h0M2140.3 552h0M2149.3 552h0M2158.3 552h0M2167.3 552h0M2176.3 552h0M2177.9 545.3h0M2177 536.4h0M2176.1 527.4h0M2175.1 518.4h0M2173.8 509.6h0M2170.9 501h0M2168.1 492.4h0M2165.2 483.9h0M2161.4 475.8h0M2157.3 467.7h0M2153.3 459.6h0M2149.3 451.6h0M2145.2 443.5h0M2141.2 435.4h0M2137.2 427.4h0M2133.6 419.1h0M2130.8 410.6h0M2127.9 402h0M2125.1 393.5h0M2123.4 384.6h0M2122.1 375.7h0M2120.9 366.8h0M2119.5 357.9h0M2113.2 351.5h0M2106.2 347.4h0M2097.4 349.6h0M2092.5 356.2h0M2089.1 364.5h0M2086.1 373h0M2085 381.9h0M2083.9 390.9h0M2082.8 399.8h0M2081.7 408.8h0M2079.1 417.4h0M2076 425.8h0M2072.8 434.3h0M2069.6 442.7h0M2066.5 451.1h0M2062.6 459.3h0M2058.6 467.3h0M2054.5 475.4h0M2050.5 483.5h0M2046.5 491.5h0M2042.4 499.6h0M2038.4 507.6h0M2035.8 516.1h0M2034.9 525.1h0M2034 534.1h0M2033 543h0" stroke="#00BF7D" stroke-width="13.2" stroke-linecap="round" fill="none"/>
<path d="M2113.1 293.7h0M2088.9 301h0M2099.2 303h0M2105.6 304.5h0M2117.8 301.6h0M2083.1 311.3h0M2097.7 308.3h0M2104.9 311.9h0M2115.9 311.5h0M2129.9 309.7h0M2089.5 324.3h0M2105.1 319.6h0M2130 317.9h0M2077.1 328.9h0M2099.2 334.5h0M2103.2 331.4h0M2119.8 333.2h0M2126 330.7h0M2077.2 343.3h0M2086.4 343.6h0M2109.7 342.9h0M2126.3 343.8h0M2138.6 340.6h0M2074.2 353.5h0M2097.6 348.6h0M2117 352.8h0M2124.2 352.7h0M2133.7 353.8h0M2074.3 357.7h0M2088.5 358.4h0M2144.9 362.8h0M2069.4 372.5h0M2084.2 371.2h0M2150 374.1h0M2068.9 379.8h0M2078.7 383.9h0M2127.7 377.7h0M2133.7 378.1h0M2143.1 380.1h0M2059.5 390.2h0M2067.5 389.9h0M2076.3 392.4h0M2125.9 392.1h0M2139.8 388.6h0M2144 390.4h0M2129.4 399h0M2148.9 400.8h0M2056.8 411.1h0M2078 409h0M2133.1 410.8h0M2146.9 413.6h0M2153.3 409.5h0M2164.2 411.9h0M2059.4 420.6h0M2067 423.7h0M2074.2 423.2h0M2159.7 423.6h0M2168.4 422h0M2143.7 432.1h0M2154.7 427.9h0M2165.7 433.9h0M2054.4 437.8h0M2067.9 438.6h0M2145.5 440.8h0M2157 441.3h0M2167.1 437.7h0M2174 440.2h0M2056.3 453.1h0M2155.7 452.3h0M2170 450.3h0M2173.9 454.3h0M2048.2 459.6h0M2054.2 460.2h0M2157.6 463.8h0M2167.5 462.5h0M2178 463.4h0M2047 474h0M2168.1 468.1h0M2173.3 469.2h0M2049 478.8h0M2175.7 484.2h0M2040 491.1h0M2189.5 489.2h0M2038.3 501.6h0M2174.9 503.6h0M2185.4 504.4h0M2024.7 509.4h0M2173.9 509.2h0M2189.4 510.7h0M2027.1 520.5h0M2183.2 520.6h0M2026 527.7h0M2185.2 533.3h0M2018.5 540.6h0M2025.6 540.6h0M2188.8 544h0M2024.5 551.9h0M2153.6 552.3h0M2183.8 551.5h0M2261.8 448.4h0M2243.3 457.2h0M2250 454.2h0M2300.5 453.9h0M2271 467.2h0M2302.1 465h0M2330 463.1h0M2242.4 479.3h0M2313.9 473h0M2337.7 472.6h0M2348.9 473.9h0M2268.8 488.8h0M2320.3 487.1h0M2331.4 485.8h0M2339.6 484.1h0M2354.3 485.1h0M2223.2 499.4h0M2261.8 496.2h0M2334.3 493.3h0M2237.7 503.7h0M2328.4 504h0M2338.7 505h0M2231.4 519.5h0M2248.4 517.5h0M2288.6 515.4h0M2299.4 514.6h0M2319.5 517.8h0M2330.7 512.5h0M2354.2 512.8h0M2270 525.9h0M2279.8 522.9h0M2351.7 524.9h0M2219.8 538.1h0M2251.3 538.4h0M2261 532.9h0M2279.3 538.4h0M2304.1 532.7h0M2232.5 549.1h0M2252.8 542.6h0M2260.4 545.2h0M2292.1 548h0M2331.7 542.6h0" stroke="#00BF7D" stroke-width="13.2" stroke-linecap="round" fill="none"/>
<path d="M2031.2 191.3h0M2070.6 230.7h0M2110 232.3h0M2137.2 227.4h0M2034.5 247.8h0M2066 265.8h0M2141.5 271.7h0M2083.7 279.9h0M2062.4 285.5h0M2069 287.1h0M2098.5 284.9h0M2106.7 286.5h0M2123.1 284.9h0M2123.1 291.4h0M2150.4 297h0M2070 305.2h0M2092.9 307.2h0M2108.4 309.5h0M2128.1 302.9h0M2137.9 311.1h0M2072.3 324.2h0M2168.4 325.9h0M2039.4 336.7h0M2207.8 336.7h0M2189.8 344.9h0M2146.1 332.4h0M2152.7 347.2h0M2139.5 340.6h0M2251.1 373.5h0M2239 384.3h0M2177.3 381.7h0M2187.1 385.9h0M2152.7 376.7h0M2162.5 375.1h0M2057.5 376.7h0M2065.7 375.1h0M2047.6 393.1h0M2376.8 405.6h0M2003.7 417.8h0M2159.2 404.6h0M2264.3 414.5h0M2270.8 415.5h0M2242.9 429.2h0M2252.8 425.3h0M2178.9 422.7h0M2031.2 439.1h0M2034.5 450.6h0M2172.4 437.4h0M2188.8 440.7h0M2195.3 445.6h0M2318.4 439.1h0M2336.5 442.4h0M2346.3 450.6h0M2334.8 455.5h0M2226.5 448.9h0M2238 450.6h0M2269.8 455.5h0M2003.7 458.8h0M2314.5 462.1h0M2246.2 467h0M2257.7 469.3h0M2275.1 475.2h0M2362.7 474.5h0M2344.7 475.2h0M2398.8 475.8h0M2318.4 476.8h0M2329.9 480.1h0M2228.2 480.1h0M2241.3 480.1h0M2024.7 471.9h0M2398.8 494.9h0M2208.5 499.8h0M2218.3 498.2h0M2231.4 501.4h0M2316.8 493.2h0M2343 494.9h0M2018.1 506.4h0M2021.4 514.6h0M2300.4 512.9h0M2310.2 517.8h0M2257.7 514.6h0M2274.1 516.2h0M2249.5 522.8h0M2264.3 529.3h0M2323.3 517.8h0M2343 517.8h0M2352.9 509.6h0M2228.2 532.6h0M2313.5 532.6h0M2329.9 531h0M2343 531h0M2011.5 549h0M2024.7 542.5h0M2208.5 549h0M2238 549h0M2264.3 550.7h0M2274.1 545.7h0M2287.2 542.5h0M2313.5 547.4h0M2349.6 550h0M2329.9 539.2h0" stroke="#00BF7D" stroke-width="13.2" stroke-linecap="round" fill="none"/>
<path d="M2004.4 490.3C2008.5 490 2020.7 490 2029.1 488.6C2037.5 487.2 2046.2 485.1 2054.7 481.8C2063.2 478.5 2071.2 472.8 2080.3 469C2089.4 465.2 2100.8 459.4 2109.3 458.8C2117.8 458.2 2123.5 462.5 2131.5 465.6C2139.5 468.7 2147.2 473.8 2157.1 477.5C2167 481.2 2178.4 484.7 2191.2 487.8C2204 490.9 2218.2 494.2 2233.9 496.3C2249.6 498.4 2268 499.9 2285.1 500.6C2302.2 501.3 2322.1 501 2336.3 500.6C2350.5 500.2 2360 499.2 2370.4 498.4C2380.8 497.6 2393.9 496.4 2398.6 496" stroke="#FF0000" stroke-width="6.6" fill="none" stroke-linejoin="round"/>
</g>
<rect x="1983" y="136.3" width="467.6" height="435.3" fill="none" stroke="#333" stroke-width="1.3"/>
<text x="2261.6" y="183.4" font-size="44.7" font-weight="bold" fill="#000">N</text>
<text x="2305.3" y="183.4" font-size="44.7" font-weight="bold" fill="#000">=</text>
<text x="2341.9" y="183.4" font-size="44.7" font-weight="bold" fill="#000">45</text>
<text x="2238" y="237.3" font-size="44.7" font-weight="bold" fill="#000">PA</text>
<text x="2317.3" y="237.3" font-size="44.7" font-weight="bold" fill="#000">=</text>
<text x="2355" y="237.3" font-size="44.7" font-weight="bold" fill="#000">0.52</text>
<rect x="70.2" y="582.4" width="467.6" height="135.9" fill="#D9D9D9" stroke="#333" stroke-width="1.3"/>
<text x="304" y="659" font-size="22.4" font-weight="bold" fill="#111" stroke="#111" stroke-width="0.25" text-anchor="middle">KFA/2*KACHU*2//WAXBI</text>
<rect x="70.2" y="718.3" width="467.6" height="435.3" fill="#fff"/>
<g clip-path="url(#c5)" fill="#00BFC4">
<path d="M150.8 1134 293.8 1134 293.8 1092.6 274.4 1015 256.5 997.1 233.7 988 211.4 988 192.7 997.3 192.2 997.5 169.4 1006.7 155.8 1033.8 148.6 1072.3 150.8 1134Z"/>
<path d="M150.8 1134h0M159.8 1134h0M168.8 1134h0M177.9 1134h0M186.9 1134h0M195.9 1134h0M204.9 1134h0M213.9 1134h0M222.9 1134h0M231.9 1134h0M241 1134h0M250 1134h0M259 1134h0M268 1134h0M277 1134h0M286 1134h0M293.8 1132.7h0M293.8 1123.7h0M293.8 1114.7h0M293.8 1105.7h0M293.8 1096.7h0M292.6 1087.8h0M290.4 1079.1h0M288.2 1070.3h0M286 1061.6h0M283.8 1052.8h0M281.7 1044.1h0M279.5 1035.3h0M277.3 1026.6h0M275.1 1017.9h0M270.1 1010.7h0M263.7 1004.3h0M257.3 998h0M249.2 994.2h0M240.9 990.8h0M232.4 988h0M223.4 988h0M214.4 988h0M206 990.7h0M197.9 994.7h0M189.8 998.5h0M181.4 1001.9h0M173 1005.2h0M167.1 1011.2h0M163.1 1019.3h0M159 1027.3h0M155.5 1035.5h0M153.8 1044.4h0M152.1 1053.2h0M150.5 1062.1h0M148.8 1071h0M148.8 1080h0M149.2 1089h0M149.5 1098h0M149.8 1107h0M150.2 1116h0M150.5 1125h0" stroke="#00BFC4" stroke-width="13.2" stroke-linecap="round" fill="none"/>
<path d="M215.5 894h0M221.4 895.5h0M205.8 905.4h0M215 899.2h0M224.7 903.6h0M192.7 913.5h0M204.3 915.3h0M210.3 913.9h0M225.4 916h0M231.8 913.2h0M183.6 923.9h0M193.3 925.7h0M203.3 921h0M211.3 921.5h0M219.6 919.3h0M234.5 923.5h0M240 922.7h0M183.9 931.2h0M194.1 930.8h0M210.4 930.8h0M221.4 930.4h0M230.9 929.5h0M241.2 935.8h0M256.4 933.7h0M162.9 942.7h0M174.8 942.6h0M184.7 939.5h0M194.9 943.4h0M203.9 939.2h0M214.2 940h0M225.4 942.8h0M234.9 940.6h0M254.5 939.8h0M173.5 951h0M190.7 953.2h0M201.7 949.2h0M215.3 952.4h0M236.5 955.4h0M243.9 954.1h0M251.1 952.5h0M150.9 960.6h0M162.9 961.6h0M175 963h0M182.4 965h0M189.6 960.5h0M210.1 962.4h0M223.9 960.5h0M234.8 960h0M242.7 965.9h0M254.9 962.4h0M263.8 959.9h0M153 974.2h0M170 973.1h0M183.9 975.9h0M194.6 973.7h0M206.2 974h0M226.1 973.8h0M235.9 975h0M244 971.8h0M253 975.1h0M265.9 971.6h0M144.9 985.6h0M166.5 981.8h0M174.6 984.1h0M182.1 983.4h0M189.6 982.1h0M200.5 981.2h0M215.1 985.1h0M225.8 984.7h0M234.6 984.3h0M245.5 984h0M253.6 985.5h0M264.2 979.3h0M273.7 985h0M140.5 989.5h0M151.4 989.9h0M163.5 990.3h0M169.6 995.2h0M182.5 991.9h0M190.8 991.2h0M256.5 993.1h0M260.5 994.8h0M275.8 992.1h0M134.6 1002.5h0M144.5 1003.2h0M155.7 999.5h0M163.9 1003.2h0M171.6 1003.5h0M272.3 1004.2h0M285.1 1002.7h0M293.1 1004.8h0M135 1009.9h0M144.7 1009.1h0M149.6 1010.9h0M163.9 1015.7h0M272.3 1012h0M285.1 1010.6h0M290.7 1013.3h0M131.4 1020.5h0M140.3 1025.1h0M155.3 1022.6h0M160.1 1020.9h0M285.1 1025.4h0M294.4 1020h0M299.8 1022.7h0M136.2 1032.8h0M146.3 1034.9h0M155.7 1033.8h0M280.2 1036h0M300.1 1032.5h0M136.4 1045.7h0M143.4 1040.8h0M150.7 1041.8h0M286.6 1043.5h0M290 1045.3h0M302.4 1042.4h0M132.8 1053.2h0M289.7 1049.1h0M125.4 1063.9h0M129.8 1062.1h0M142.9 1062.3h0M292.5 1063.5h0M306.4 1059.1h0M126.1 1075.6h0M134 1070.9h0M145.3 1071.2h0M295.6 1070.7h0M303.8 1073h0M311.9 1069.7h0M131.9 1080h0M144 1079.7h0M294.1 1080.9h0M305.1 1079.5h0M135.7 1093.8h0M140.4 1093.5h0M295.1 1095.2h0M310.4 1089.1h0M125.8 1101.2h0M130.5 1101.1h0M145.9 1106h0M304.1 1104.7h0M133.6 1114h0M139.8 1114.9h0M300.3 1115h0M130 1125h0M139.8 1124.5h0M300.7 1120.5h0M146.1 1134.4h0M263.8 1134.3h0" stroke="#00BFC4" stroke-width="13.2" stroke-linecap="round" fill="none"/>
<path d="M237.2 837.8h0M219.7 845.4h0M192.4 853.3h0M206.6 857.4h0M227.9 862.9h0M250.3 870h0M250.3 878.2h0M169.7 869.2h0M165.6 874.7h0M157.4 883.7h0M188.3 869.2h0M201.2 876h0M210.7 882.3h0M130.7 899.3h0M136.4 907.5h0M112.9 910.7h0M162.1 907.5h0M192.4 899.3h0M235.3 888.3h0M234 895.2h0M250.3 902h0M272.2 909.6h0M130.7 919.8h0M157.4 919.8h0M187.5 910.2h0M201.2 912.9h0M223 915.7h0M246.2 917h0M182 921.1h0M212.1 923.9h0M219.7 928h0M139.7 930.7h0M145.1 932.1h0M285.9 934.8h0M121.9 943.5h0M157.4 940.3h0M165.6 943h0M195.7 940.3h0M250.3 933.4h0M261.3 943h0M91.3 959.4h0M152 964.9h0M121.9 970.3h0M127.4 973.1h0M131.5 984h0M285.9 967.6h0M299 979.1h0M326 975.8h0M280.4 984h0M112.9 989.5h0M95.4 990.8h0M165.6 974.4h0M124.7 1008.6h0M143.8 997.7h0M295.4 1011.3h0M299.5 1016.8h0M330.1 1012.7h0M112.4 1022.3h0M112.4 1031.8h0M285.9 1031.8h0M308.3 1028.3h0M120.6 1046.9h0M288.6 1045.5h0M304.5 1049h0M321.4 1049h0M396.5 1042.8h0M428 1045.5h0M441.6 1041.4h0M392.4 1055.1h0M387 1059.2h0M347.4 1070.9h0M384.2 1072.8h0M441.6 1079.7h0M90.5 1089.2h0M119.2 1082.4h0M113.7 1086.5h0M374.7 1086.5h0M396.5 1086.5h0M317.3 1093.3h0M131.5 1097.4h0M332.3 1104.3h0M340.5 1109.7h0M378.8 1107h0M388.3 1102.9h0M400.6 1101.5h0M132.8 1111.1h0M307.7 1115.2h0M339.2 1117.9h0M352.8 1119.3h0M396.5 1122h0M305 1122h0M291.3 1126.1h0M126.6 1128.9h0M369.2 1127.5h0M334.5 1132.4h0M152 1131.6h0M250.3 1131.6h0" stroke="#00BFC4" stroke-width="13.2" stroke-linecap="round" fill="none"/>
<path d="M91.6 992.4C94.8 995.5 103.8 1004.2 110.9 1010.9C118 1017.6 126.3 1026.3 134 1032.5C141.7 1038.7 149.5 1043.9 157.2 1047.9C164.9 1051.9 172.7 1054.3 180.4 1056.4C188.1 1058.5 197.1 1060.2 203.5 1060.3C209.9 1060.4 213.8 1059 219 1057.2C224.2 1055.4 228.8 1051.3 234.4 1049.5C240.1 1047.7 246.5 1046.4 252.9 1046.4C259.3 1046.4 264.5 1047.7 273 1049.5C281.5 1051.3 292.3 1054.2 303.9 1057.2C315.5 1060.2 329.6 1064.1 342.5 1067.2C355.4 1070.3 369.5 1073.7 381.1 1075.7C392.7 1077.7 402 1078.5 412 1079.1C422 1079.7 436.4 1079.1 441.3 1079.1" stroke="#FF0000" stroke-width="6.6" fill="none" stroke-linejoin="round"/>
</g>
<rect x="70.2" y="718.3" width="467.6" height="435.3" fill="none" stroke="#333" stroke-width="1.3"/>
<text x="353" y="768.7" font-size="44.7" font-weight="bold" fill="#000">N</text>
<text x="396.8" y="768.7" font-size="44.7" font-weight="bold" fill="#000">=</text>
<text x="433.2" y="768.7" font-size="44.7" font-weight="bold" fill="#000">43</text>
<text x="337.3" y="823.4" font-size="44.7" font-weight="bold" fill="#000">PA</text>
<text x="421.3" y="823.4" font-size="44.7" font-weight="bold" fill="#000">=</text>
<text x="458.9" y="823.4" font-size="44.7" font-weight="bold" fill="#000">0.4</text>
<rect x="548.4" y="582.4" width="467.6" height="135.9" fill="#D9D9D9" stroke="#333" stroke-width="1.3"/>
<text x="782.2" y="622.4" font-size="22.4" font-weight="bold" fill="#111" stroke="#111" stroke-width="0.25" text-anchor="middle">KACHU#1/YUNMAI47//KACHU/</text>
<text x="782.2" y="646.8" font-size="22.4" font-weight="bold" fill="#111" stroke="#111" stroke-width="0.25" text-anchor="middle">5/SAUAL/3/C80.1/3*BATAVIA//</text>
<text x="782.2" y="671.2" font-size="22.4" font-weight="bold" fill="#111" stroke="#111" stroke-width="0.25" text-anchor="middle">2*WBLL1/4/SITE/MO//PASTOR/3/TILHI/</text>
<text x="782.2" y="695.6" font-size="22.4" font-weight="bold" fill="#111" stroke="#111" stroke-width="0.25" text-anchor="middle">6/KACHU#1/KIRITATI//KACHU</text>
<rect x="548.4" y="718.3" width="467.6" height="435.3" fill="#fff"/>
<g clip-path="url(#c6)" fill="#00B0F6">
<path d="M610.3 1134 717.9 1134 713.7 1093.1 703.9 1063.8 694.1 1034.2 679.3 1004.6 678.9 1003.8 669.3 974.8 657.9 959.6 644.7 966.2 635.5 993.8 625.5 1023.8 625.2 1024.6 610.7 1053.7 605.9 1091.9 610.3 1134Z"/>
<path d="M610.3 1134h0M619.4 1134h0M628.5 1134h0M637.7 1134h0M646.8 1134h0M655.9 1134h0M665 1134h0M674.2 1134h0M683.3 1134h0M692.4 1134h0M701.6 1134h0M710.7 1134h0M717.7 1132.1h0M716.8 1123h0M715.9 1113.9h0M714.9 1104.9h0M714 1095.8h0M711.7 1087h0M708.8 1078.3h0M705.9 1069.7h0M703 1061h0M700.1 1052.3h0M697.2 1043.7h0M694.3 1035h0M690.4 1026.8h0M686.3 1018.6h0M682.2 1010.5h0M678.4 1002.2h0M675.5 993.5h0M672.6 984.8h0M669.7 976.2h0M664.7 968.7h0M659.2 961.3h0M651.6 962.8h0M644.3 967.5h0M641.4 976.2h0M638.5 984.9h0M635.6 993.5h0M632.7 1002.2h0M629.8 1010.9h0M627 1019.5h0M623.5 1028h0M619.4 1036.1h0M615.4 1044.3h0M611.3 1052.5h0M609.7 1061.4h0M608.6 1070.5h0M607.4 1079.5h0M606.3 1088.6h0M606.5 1097.7h0M607.4 1106.7h0M608.4 1115.8h0M609.3 1124.9h0" stroke="#00B0F6" stroke-width="13.2" stroke-linecap="round" fill="none"/>
<path d="M644.6 915.8h0M655 916.1h0M663.6 917.7h0M632.9 931.4h0M657.2 927.3h0M635.1 942h0M645.5 941.6h0M654.9 940.2h0M665.2 939h0M676.8 940.5h0M651.9 946.7h0M674.6 950.4h0M624.9 958.4h0M638.9 957.4h0M658.2 959.8h0M668.8 960.8h0M672.8 960.1h0M685.9 958.1h0M623.1 967.1h0M633.7 966.5h0M676.6 967.9h0M687.2 971.6h0M624.6 980.4h0M634.2 978.4h0M686.7 981.3h0M692.4 978.7h0M618.6 988.4h0M623.8 988.6h0M674.7 986.4h0M688.8 990h0M696.6 988.2h0M627 998.5h0M685.3 1001h0M692.6 1000.3h0M702.9 999.1h0M626.1 1007h0M706.7 1006.1h0M618 1019.3h0M626.5 1017h0M617.8 1027h0M695.2 1027.2h0M703.5 1031.4h0M604.4 1036.3h0M615 1036.5h0M706.1 1040.3h0M718.5 1040.7h0M702.9 1051.9h0M715.5 1046.5h0M708.6 1056.5h0M717.6 1062.3h0M722.3 1059.9h0M597.5 1068.2h0M602.7 1072h0M717.5 1070.7h0M597.1 1081.3h0M604.3 1076.9h0M717.1 1077.9h0M723 1075.9h0M603.6 1088.7h0M716 1086.5h0M724.1 1086.9h0M597.2 1096h0M604.8 1101h0M717.2 1095.8h0M717.4 1109h0M726 1107.2h0M604.8 1121.7h0M726 1116.9h0M604.8 1127.7h0M725.5 1126.2h0" stroke="#00B0F6" stroke-width="13.2" stroke-linecap="round" fill="none"/>
<path d="M653.8 855h0M635.4 863.7h0M639.5 873.3h0M649.1 876h0M662.8 882.3h0M684.6 881h0M631.3 888.3h0M657.3 900.6h0M662.8 899.8h0M622.6 909.6h0M702.7 913.5h0M675.1 912.9h0M591.7 929.9h0M631.3 921.1h0M636.8 929.3h0M625.9 934.8h0M662.8 926.6h0M669.6 923.9h0M688.7 928.5h0M702.4 937.5h0M711.4 937.5h0M665.5 940.3h0M676.4 953.9h0M693.6 960.8h0M591.7 962.1h0M608.7 968.1h0M627.2 956.7h0M621.8 978.5h0M616.3 984h0M617.7 992.2h0M711.4 982.1h0M728.3 989.5h0M754.9 980.4h0M720.2 1005.9h0M720.2 1011.3h0M613.6 1014.1h0M618.5 1010h0M813.1 1005.3h0M706.5 1027.7h0M728.3 1031.3h0M777.5 1035.4h0M599.9 1038.7h0M605.4 1031.8h0M714.7 1040h0M728.3 1045.5h0M830.8 1046.3h0M871 1042.8h0M598.6 1060.5h0M725.6 1066h0M751 1060h0M839.8 1062.7h0M857.6 1065.2h0M760.3 1072h0M595 1087.3h0M587.6 1086.5h0M569.3 1093.3h0M736.5 1079.7h0M747.5 1085.1h0M761.1 1086.5h0M786.3 1081h0M795.3 1091.4h0M809 1087.9h0M919.6 1082.4h0M950.5 1085.9h0M751 1098.8h0M888.2 1101.5h0M910.1 1098.8h0M583 1106.4h0M768.8 1105.6h0M941.5 1111.1h0M839.8 1113.8h0M773.4 1116.6h0M919.6 1121.5h0M781.6 1124.8h0M791.2 1123.4h0M791.2 1130.2h0M826.7 1127.5h0M821.3 1132.4h0M578.1 1125.6h0M736.5 1126.1h0M737.9 1134.3h0M728.3 1131.6h0M612.2 1120.7h0" stroke="#00B0F6" stroke-width="13.2" stroke-linecap="round" fill="none"/>
<path d="M568.9 1096.6C571.5 1094.2 577.8 1087.5 584.4 1082C591 1076.5 602 1067.9 608.8 1063.3C615.6 1058.7 619.9 1056.7 625 1054.4C630.1 1052.1 634.2 1049 639.6 1049.5C645 1050 651 1056.8 657.5 1057.6C664 1058.4 673.3 1054.4 678.7 1054.4C684.1 1054.4 684 1054.6 690 1057.6C696 1060.6 704.9 1067.4 714.4 1072.3C723.9 1077.2 734.7 1082.9 746.9 1086.9C759.1 1091 772.6 1094.2 787.5 1096.6C802.4 1099 820 1101.1 836.3 1101.5C852.6 1101.9 871.5 1100 885.1 1099.1C898.7 1098.1 906.9 1097 917.6 1095.8C928.3 1094.6 944 1092.5 949.3 1091.8" stroke="#FF0000" stroke-width="6.6" fill="none" stroke-linejoin="round"/>
</g>
<rect x="548.4" y="718.3" width="467.6" height="435.3" fill="none" stroke="#333" stroke-width="1.3"/>
<text x="830.2" y="764.1" font-size="44.7" font-weight="bold" fill="#000">N</text>
<text x="874" y="764.1" font-size="44.7" font-weight="bold" fill="#000">=</text>
<text x="910.4" y="764.1" font-size="44.7" font-weight="bold" fill="#000">42</text>
<text x="807.4" y="817.1" font-size="44.7" font-weight="bold" fill="#000">PA</text>
<text x="886.1" y="817.1" font-size="44.7" font-weight="bold" fill="#000">=</text>
<text x="923.5" y="817.1" font-size="44.7" font-weight="bold" fill="#000">0.28</text>
<rect x="1026.6" y="582.4" width="467.6" height="135.9" fill="#D9D9D9" stroke="#333" stroke-width="1.3"/>
<text x="1260.4" y="646.8" font-size="22.4" font-weight="bold" fill="#111" stroke="#111" stroke-width="0.25" text-anchor="middle">WBLL1*2/KURUKU//HEILO/3/</text>
<text x="1260.4" y="671.2" font-size="22.4" font-weight="bold" fill="#111" stroke="#111" stroke-width="0.25" text-anchor="middle">2*KACHU#1/KIRITATI//KACHU</text>
<rect x="1026.6" y="718.3" width="467.6" height="435.3" fill="#fff"/>
<g clip-path="url(#c7)" fill="#9590FF">
<path d="M1084.3 1134 1229.1 1134 1234.8 1116.1 1234.8 1097.4 1221.9 1084.5 1207.1 1069.8 1206.8 1069.4 1206.4 1068.9 1206.1 1068.4 1205.9 1067.9 1205.7 1067.4 1198.8 1046.7 1185.1 1033 1184.6 1032.5 1184.3 1032 1169.6 1009.9 1169.2 1009.3 1168.9 1008.7 1168.7 1008 1161.8 980.2 1151.8 970.2 1146.5 973.7 1136.2 1001.3 1135.9 1001.9 1135.7 1002.4 1135.3 1002.8 1124.3 1017.6 1123.7 1018.2 1109.8 1032.1 1099.6 1056.1 1096 1081.1 1095.9 1081.7 1095.7 1082.3 1095.4 1082.9 1081.5 1110.7 1084.3 1134Z"/>
<path d="M1084.3 1134h0M1093.3 1134h0M1102.3 1134h0M1111.3 1134h0M1120.3 1134h0M1129.3 1134h0M1138.3 1134h0M1147.4 1134h0M1156.4 1134h0M1165.4 1134h0M1174.4 1134h0M1183.4 1134h0M1192.4 1134h0M1201.4 1134h0M1210.4 1134h0M1219.4 1134h0M1228.4 1134h0M1231.6 1126.1h0M1234.4 1117.5h0M1234.8 1108.6h0M1234.8 1099.6h0M1229.9 1092.6h0M1223.6 1086.2h0M1217.2 1079.8h0M1210.8 1073.5h0M1205.4 1066.5h0M1202.5 1057.9h0M1199.7 1049.4h0M1194.4 1042.3h0M1188.1 1036h0M1182.3 1029.1h0M1177.3 1021.6h0M1172.3 1014.1h0M1168.3 1006.2h0M1166.1 997.4h0M1163.9 988.7h0M1161.6 980h0M1155.2 973.7h0M1148.3 972.5h0M1144.1 980.1h0M1141 988.5h0M1137.8 997h0M1133.8 1004.9h0M1128.4 1012.2h0M1122.8 1019.2h0M1116.4 1025.6h0M1110 1031.9h0M1106.4 1040.1h0M1102.8 1048.4h0M1099.5 1056.7h0M1098.2 1065.7h0M1096.9 1074.6h0M1095.2 1083.4h0M1091.2 1091.4h0M1087.1 1099.5h0M1083.1 1107.5h0M1082.2 1116.1h0M1083.2 1125.1h0" stroke="#9590FF" stroke-width="13.2" stroke-linecap="round" fill="none"/>
<path d="M1116.9 910.5h0M1125.6 913.4h0M1139.5 909.1h0M1145.5 912.1h0M1116.2 919.9h0M1129.2 924.8h0M1140 921.2h0M1145.8 919.8h0M1116.4 933.3h0M1129.8 932.4h0M1139.5 930.9h0M1149 929.9h0M1153.9 934.8h0M1114.8 944h0M1129.6 941.8h0M1135.1 945.1h0M1150.2 940.7h0M1156 943.9h0M1116.4 952h0M1124.8 951.5h0M1135.1 955.3h0M1144.9 951.4h0M1160.2 954.7h0M1117.2 961.7h0M1129.7 959.2h0M1137.4 965.1h0M1144.8 962.1h0M1166.6 960.1h0M1114 970.5h0M1129 974.6h0M1137.4 971.6h0M1157.5 970.7h0M1167.9 969.5h0M1104.2 985.9h0M1118.4 984.2h0M1126.7 984.1h0M1168.4 981h0M1107.1 994.5h0M1120.3 992.4h0M1125 995.1h0M1166.1 994.5h0M1180 994.3h0M1097 1001.4h0M1104.5 999.2h0M1115.2 1004.1h0M1134.8 1001.7h0M1180.1 1004.9h0M1188.1 1005.2h0M1094.2 1016h0M1107.9 1011.9h0M1119 1014.2h0M1169.5 1009.5h0M1178 1015h0M1186.3 1015.8h0M1200.1 1011.3h0M1205.6 1013.5h0M1098.3 1020.5h0M1109.6 1024h0M1194.4 1022.8h0M1209.4 1022.7h0M1228.3 1019h0M1097.7 1030.8h0M1104 1035h0M1186.2 1033.6h0M1197.1 1034.7h0M1205.9 1030.8h0M1228.8 1030h0M1096.6 1045h0M1195.3 1040.7h0M1210 1041.4h0M1220.6 1041.5h0M1228 1045.4h0M1237.3 1043.6h0M1088.8 1053.5h0M1210.2 1049.6h0M1217.5 1049.3h0M1225 1054.9h0M1238 1051.1h0M1244.3 1055.6h0M1088.1 1060.1h0M1206.8 1060.7h0M1218.2 1060.3h0M1224.3 1062.3h0M1243.9 1059.4h0M1257.1 1060.3h0M1216.8 1072h0M1230.4 1074.6h0M1244.4 1071.4h0M1257.3 1075.2h0M1086.4 1085.6h0M1219.1 1079.8h0M1224.5 1080.4h0M1235.2 1085.8h0M1250 1082.7h0M1259.9 1080h0M1228 1090.3h0M1236.8 1089.7h0M1247.5 1091.2h0M1254.8 1093.2h0M1246.9 1101.6h0M1255.7 1103.9h0M1077.7 1109.6h0M1236.2 1113.5h0M1245.5 1112h0M1080.6 1119.4h0M1237.3 1119.6h0M1245.2 1124.8h0M1256.2 1124.3h0M1263.7 1120.3h0M1254.1 1129.2h0" stroke="#9590FF" stroke-width="13.2" stroke-linecap="round" fill="none"/>
<path d="M1162.8 794.7h0M1123 801.4h0M1136.8 819.2h0M1185.1 818.3h0M1123 847.3h0M1153.9 845.2h0M1167.4 844.3h0M1149.3 867.2h0M1143.8 871.2h0M1162.2 868.8h0M1172.3 877.9h0M1123 874.9h0M1202.6 875.8h0M1207.5 887.1h0M1202.6 897.8h0M1123 891.7h0M1149.9 890.8h0M1140.7 894.8h0M1133.1 904h0M1108.6 907h0M1114.7 911.6h0M1122.4 911.6h0M1151.5 914.7h0M1154.5 919.3h0M1211.1 908.5h0M1216.3 921.4h0M1185.1 913.1h0M1108.6 923.8h0M1108.6 933h0M1123.9 933h0M1136.2 925.4h0M1167.4 930h0M1172.3 939.1h0M1088.1 942.8h0M1097 954.5h0M1082.6 962.1h0M1114.1 960.6h0M1104 968.2h0M1201.9 962.1h0M1157.6 948.3h0M1171.3 956h0M1175.9 966.7h0M1180.5 980.5h0M1091.8 986.6h0M1238.7 985.1h0M1065.2 1000.4h0M1198.9 991.2h0M1185.1 991.2h0M1220.3 1000.4h0M1208.1 1005h0M1223.4 1012.6h0M1238.7 1013.2h0M1221.8 1027.9h0M1234.1 1031.6h0M1269.3 1018.7h0M1082.6 1023.3h0M1082 1042.6h0M1313.6 1027.9h0M1327.4 1038.6h0M1353.4 1027.3h0M1353.4 1034h0M1358 1053.9h0M1246.3 1044.7h0M1269.3 1050.9h0M1261.6 1057h0M1252.4 1058.5h0M1269.3 1065.5h0M1082 1072.3h0M1252.4 1086.1h0M1266.2 1097.7h0M1048 1105.9h0M1307.5 1107.5h0M1318.2 1102.9h0M1318.2 1112.1h0M1388.6 1105.9h0M1403 1101.4h0M1410.9 1101.4h0M1287.6 1119.1h0M1296.8 1116.7h0M1261.6 1119.7h0M1269.3 1119.7h0M1266.2 1130.4h0M1246.3 1130.4h0M1234.1 1125.8h0M1075 1121.3h0" stroke="#9590FF" stroke-width="13.2" stroke-linecap="round" fill="none"/>
<path d="M1048.5 1124.2C1051 1120.6 1057.4 1110.3 1063.2 1102.6C1069 1094.9 1076 1085.1 1083.2 1077.9C1090.4 1070.7 1099.2 1063.9 1106.4 1059.3C1113.6 1054.7 1119.5 1051.2 1126.5 1050.1C1133.5 1048.9 1141.9 1050.9 1148.1 1052.4C1154.3 1053.9 1158.3 1056.6 1163.5 1059.3C1168.7 1062 1171.3 1066.5 1179 1068.6C1186.7 1070.7 1197 1070.4 1209.9 1071.7C1222.8 1073 1238.2 1074.8 1256.2 1076.3C1274.2 1077.8 1300 1080 1318 1081C1336 1082 1348.9 1082.4 1364.3 1082.5C1379.7 1082.6 1402.9 1081.8 1410.6 1081.7" stroke="#FF0000" stroke-width="6.6" fill="none" stroke-linejoin="round"/>
</g>
<rect x="1026.6" y="718.3" width="467.6" height="435.3" fill="none" stroke="#333" stroke-width="1.3"/>
<text x="1310.2" y="764.1" font-size="44.7" font-weight="bold" fill="#000">N</text>
<text x="1354" y="764.1" font-size="44.7" font-weight="bold" fill="#000">=</text>
<text x="1390.4" y="764.1" font-size="44.7" font-weight="bold" fill="#000">42</text>
<text x="1286.9" y="818.5" font-size="44.7" font-weight="bold" fill="#000">PA</text>
<text x="1366.1" y="818.5" font-size="44.7" font-weight="bold" fill="#000">=</text>
<text x="1403.5" y="818.5" font-size="44.7" font-weight="bold" fill="#000">0.37</text>
<rect x="1504.8" y="582.4" width="467.6" height="135.9" fill="#D9D9D9" stroke="#333" stroke-width="1.3"/>
<text x="1738.6" y="646.8" font-size="22.4" font-weight="bold" fill="#111" stroke="#111" stroke-width="0.25" text-anchor="middle">DANPHE#1*2/CHYAK//</text>
<text x="1738.6" y="671.2" font-size="22.4" font-weight="bold" fill="#111" stroke="#111" stroke-width="0.25" text-anchor="middle">MUTUS*2/HARIL#1</text>
<rect x="1504.8" y="718.3" width="467.6" height="435.3" fill="#fff"/>
<g clip-path="url(#c8)" fill="#E76BF3">
<path d="M1566.2 1134 1723.4 1134 1719.2 1093.9 1705.2 1065.8 1687 1047.6 1654.3 1038.2 1621.1 1038.2 1593.9 1047.3 1580.4 1065.4 1566.2 1093.6 1566.2 1134Z"/>
<path d="M1566.2 1134h0M1575.3 1134h0M1584.4 1134h0M1593.5 1134h0M1602.6 1134h0M1611.7 1134h0M1620.7 1134h0M1629.8 1134h0M1638.9 1134h0M1648 1134h0M1657.1 1134h0M1666.2 1134h0M1675.2 1134h0M1684.3 1134h0M1693.4 1134h0M1702.5 1134h0M1711.6 1134h0M1720.7 1134h0M1722.8 1127.7h0M1721.8 1118.7h0M1720.9 1109.6h0M1720 1100.6h0M1718.2 1091.8h0M1714.1 1083.7h0M1710.1 1075.6h0M1706 1067.4h0M1700.1 1060.7h0M1693.7 1054.2h0M1687.2 1047.8h0M1678.6 1045.2h0M1669.9 1042.7h0M1661.1 1040.2h0M1652.3 1038.2h0M1643.2 1038.2h0M1634.1 1038.2h0M1625.1 1038.2h0M1616.2 1039.9h0M1607.6 1042.7h0M1599 1045.6h0M1591.7 1050.3h0M1586.2 1057.5h0M1580.8 1064.8h0M1576.6 1072.9h0M1572.5 1081h0M1568.5 1089.1h0M1566.2 1097.7h0M1566.2 1106.7h0M1566.2 1115.8h0M1566.2 1124.9h0" stroke="#E76BF3" stroke-width="13.2" stroke-linecap="round" fill="none"/>
<path d="M1632.3 900.4h0M1609 908.9h0M1621.8 911.6h0M1631.7 906.5h0M1564.2 920.4h0M1573.7 919.5h0M1580.7 915.7h0M1590.8 917.8h0M1601.9 920.5h0M1612.1 920.6h0M1620.2 920.4h0M1640.8 918.5h0M1655 918.9h0M1664.4 922.1h0M1571.5 927.5h0M1584.2 931.4h0M1593.7 926.9h0M1600.6 925.6h0M1612.8 926h0M1622.5 928.1h0M1632.8 927.8h0M1643 930.1h0M1649.6 926.3h0M1660.6 928.6h0M1672.5 928.1h0M1682.6 929.8h0M1562 939h0M1582.6 938.1h0M1595.6 938.1h0M1600.6 942.2h0M1612.5 940.2h0M1620.3 936.9h0M1630.6 939.8h0M1644.6 937h0M1650.9 938.3h0M1662.4 940.2h0M1681.8 939.3h0M1694.5 935.8h0M1564.7 948.7h0M1581.4 949h0M1589.3 948h0M1605.1 948.4h0M1615 950h0M1633.5 952.5h0M1645.5 947.8h0M1655.4 948.5h0M1660.6 951.6h0M1668.7 947h0M1684.1 948h0M1694.1 947.2h0M1714.5 949.8h0M1562.4 959.6h0M1580.9 959.1h0M1589.2 959.5h0M1602.5 955.7h0M1611.7 961.1h0M1624.9 956.4h0M1653.1 961.4h0M1661.6 961.6h0M1669.9 956h0M1695.3 956.1h0M1703.3 961.7h0M1719.6 960.8h0M1558.7 972.1h0M1578.9 972.2h0M1589.2 972.5h0M1603 965.6h0M1610.8 967.9h0M1624.6 971.9h0M1633.2 968.4h0M1640.2 968.8h0M1654.6 967.7h0M1658.9 967.9h0M1673.4 971.5h0M1691.4 971.8h0M1699.8 970h0M1710.4 970.8h0M1721.8 969.9h0M1563.9 979.9h0M1570.6 975.8h0M1580.2 978.1h0M1594.5 979.2h0M1603.8 979h0M1615 982.2h0M1621.9 978.7h0M1628.9 975.8h0M1642.4 980.5h0M1654.8 977.7h0M1664.2 981.5h0M1674 981.7h0M1680.5 979.1h0M1694.8 981.3h0M1700.2 978.2h0M1711.9 981.2h0M1721.6 977.6h0M1729.3 980.9h0M1562 992h0M1570 988.2h0M1579.4 989.7h0M1593.7 990.4h0M1600.6 990.8h0M1610.2 989.2h0M1631.4 991.3h0M1638.9 989.8h0M1650.5 991.9h0M1660.5 986.8h0M1675.5 989.5h0M1681.3 987.4h0M1703.4 989.1h0M1713.2 988.9h0M1721.7 990.2h0M1729.4 991.9h0M1551.7 1000.8h0M1560.5 997.4h0M1570.2 999.4h0M1582.1 999.4h0M1593.9 998.6h0M1601.1 999.8h0M1612.1 998.3h0M1621.4 996.4h0M1629.3 998.1h0M1640.8 996.1h0M1652.7 1000.3h0M1658.9 999.5h0M1671.4 997.4h0M1685.4 999.4h0M1692 995.8h0M1699.2 1000.8h0M1713.2 1000.4h0M1725.5 997.1h0M1729 1001.1h0M1555.5 1008.4h0M1561 1005.9h0M1569.8 1008.6h0M1580 1008.9h0M1593.7 1006.1h0M1599.4 1008.1h0M1610.1 1008.9h0M1624.1 1012.3h0M1633.9 1010.3h0M1643.8 1008.3h0M1650.2 1008.2h0M1660.6 1011.4h0M1670.8 1011.6h0M1683.4 1009.9h0M1690.8 1009.5h0M1705.5 1012h0M1712.5 1009.3h0M1724.3 1007h0M1729.8 1011.5h0M1550.8 1018.7h0M1564.2 1018.1h0M1571.9 1019.6h0M1581.6 1022h0M1591.6 1016.5h0M1600.2 1020.1h0M1621.7 1019.4h0M1629.7 1018.3h0M1638.9 1015.8h0M1664.8 1016.2h0M1671.2 1019.3h0M1684.1 1018.9h0M1694 1020.4h0M1705.2 1019.1h0M1713.6 1021.3h0M1719.7 1016.3h0M1731.4 1016h0M1551.1 1026h0M1561.5 1030.4h0M1569.8 1031.3h0M1579.6 1030.7h0M1591.6 1028h0M1611 1030.7h0M1621.8 1030.1h0M1632.3 1025.9h0M1645 1026.1h0M1652.1 1025.8h0M1662.4 1026.8h0M1672.9 1031.6h0M1679.4 1032.5h0M1693.4 1028.8h0M1700.5 1025.6h0M1713.6 1027.5h0M1721.2 1028.8h0M1555 1042.1h0M1559.7 1036.8h0M1573.4 1037.6h0M1579.5 1040.9h0M1591.3 1038h0M1602.3 1041.6h0M1608.8 1040.1h0M1641.8 1037.8h0M1650.2 1038h0M1658.6 1037.1h0M1673.5 1038.2h0M1684.2 1035.9h0M1690.8 1040.3h0M1702.3 1037.4h0M1710.4 1042.3h0M1719.7 1035.6h0M1729.2 1042.4h0M1738.6 1039.2h0M1751.2 1041.4h0M1551.2 1047.3h0M1565.1 1050h0M1573.2 1052h0M1583.8 1046.8h0M1692.2 1047.3h0M1702 1051.6h0M1734.9 1049.8h0M1742.4 1049.8h0M1753.2 1051.3h0M1549.9 1060.7h0M1560.9 1058.8h0M1569 1060h0M1579.8 1056.8h0M1712.4 1058.3h0M1719 1061.1h0M1732.3 1059.1h0M1744.8 1061.7h0M1753 1057.1h0M1550.3 1067.7h0M1560.9 1068.7h0M1571.7 1069.5h0M1709.2 1071.3h0M1723.4 1072.1h0M1729.2 1071.9h0M1739.1 1071.9h0M1750 1072.2h0M1763.2 1069.3h0M1549.1 1079.3h0M1560.1 1081.3h0M1572.8 1077.1h0M1719.8 1077.5h0M1730.7 1078.3h0M1741.8 1077.1h0M1750.2 1076.1h0M1760.8 1075.8h0M1543.2 1087.4h0M1548.8 1088.9h0M1564 1087.7h0M1722.1 1090.9h0M1730.2 1088.5h0M1743 1091.9h0M1765.1 1090.9h0M1549.5 1100.6h0M1565.2 1097h0M1731.1 1099.6h0M1739.6 1096.4h0M1749.5 1102.5h0M1765 1099.8h0M1544.5 1108.1h0M1552.6 1109.4h0M1559.2 1107.4h0M1734.5 1108.6h0M1742 1110.6h0M1749.4 1108.5h0M1759.6 1105.7h0M1542.8 1115.7h0M1552.3 1118.9h0M1561 1117.5h0M1741.1 1118.4h0M1754.6 1116.4h0M1760.2 1121.2h0M1541.9 1126h0M1553.1 1132.3h0M1728.9 1127.9h0M1742.3 1131.4h0M1754.1 1128.6h0M1760.8 1127.8h0M1770.7 1128.5h0" stroke="#E76BF3" stroke-width="13.2" stroke-linecap="round" fill="none"/>
<path d="M1667.6 848.6h0M1596.8 857.8h0M1570.3 867.1h0M1561 877.7h0M1647.1 869.8h0M1636.5 880.4h0M1712.1 883.8h0M1725.3 890.5h0M1676.3 897.6h0M1689.6 909.5h0M1751.9 913.5h0M1548.3 909.5h0M1575.6 909.5h0M1583.5 916.2h0M1606.1 913.5h0M1649.3 916.2h0M1672.3 923.6h0M1707.3 928.1h0M1734.1 931.5h0M1787.1 927.3h0M1548.3 934.2h0M1551.7 952h0M1546.4 954.6h0M1578.2 946.7h0M1663.1 938.7h0M1686.9 938.7h0M1702.8 941.4h0M1697.5 955.9h0M1663.1 957.3h0M1673.7 959.9h0M1734.1 949.3h0M1734.6 959.9h0M1742.6 957.3h0M1747.9 963.9h0M1774.4 955.9h0M1774.4 971.8h0M1769.1 976.4h0M1804.9 976.4h0M1804.9 983.8h0M1782.3 983h0M1782.3 997h0M1566.3 961.2h0M1565 973.2h0M1587.5 966.5h0M1684.3 967.9h0M1742.6 991.7h0M1737.3 997h0M1720 1002.3h0M1543.8 1002.3h0M1549.1 1010.3h0M1561 1001.8h0M1729.3 1018.2h0M1751.9 1014.3h0M1849.4 1009.5h0M1543.8 1018.2h0M1546.4 1023.6h0M1734.6 1034.2h0M1742.6 1036.8h0M1753.2 1039.5h0M1765.1 1035.5h0M1818.9 1028.1h0M1858.7 1040.3h0M1813.6 1044.8h0M1782.3 1048.7h0M1543.8 1055.4h0M1543.8 1042.1h0M1849.4 1056.7h0M1822.1 1064.6h0M1840.7 1067.3h0M1765.1 1063.3h0M1766.4 1071.3h0M1804.9 1071.3h0M1737.3 1075.3h0M1543.8 1085.9h0M1557 1087.2h0M1755.8 1088.5h0M1759.8 1081.9h0M1835.4 1086.7h0M1787.1 1091.2h0M1765.1 1099.1h0M1525.7 1104.9h0M1538.5 1113.7h0M1809.6 1103.1h0M1844.6 1107.6h0M1750.5 1113.7h0M1769.1 1112.4h0M1779.7 1111h0M1789 1113.7h0M1818.9 1124.8h0M1774.4 1130.9h0M1751.9 1132.3h0M1552.5 1132.3h0M1591.5 1134.9h0M1565 1116.4h0" stroke="#E76BF3" stroke-width="13.2" stroke-linecap="round" fill="none"/>
<path d="M1526.6 1035.4C1530.4 1035.6 1540.6 1035.8 1549.3 1036.8C1558 1037.8 1568.8 1039.7 1578.5 1041.2C1588.2 1042.7 1598 1045.4 1607.8 1046C1617.5 1046.6 1629.7 1045 1637 1044.9C1644.3 1044.8 1644.4 1044.6 1651.7 1045.6C1659 1046.6 1668.7 1049.5 1680.9 1050.7C1693.1 1051.9 1707.7 1052.3 1724.8 1052.9C1741.9 1053.5 1766.2 1053.9 1783.3 1054.4C1800.4 1054.9 1814.8 1055.4 1827.2 1055.8C1839.6 1056.2 1852.8 1056.5 1857.9 1056.6" stroke="#FF0000" stroke-width="6.6" fill="none" stroke-linejoin="round"/>
</g>
<rect x="1504.8" y="718.3" width="467.6" height="435.3" fill="none" stroke="#333" stroke-width="1.3"/>
<text x="1787.4" y="762.6" font-size="44.7" font-weight="bold" fill="#000">N</text>
<text x="1831.2" y="762.6" font-size="44.7" font-weight="bold" fill="#000">=</text>
<text x="1867.6" y="762.6" font-size="44.7" font-weight="bold" fill="#000">41</text>
<text x="1763.1" y="817.1" font-size="44.7" font-weight="bold" fill="#000">PA</text>
<text x="1843.1" y="817.1" font-size="44.7" font-weight="bold" fill="#000">=</text>
<text x="1880.2" y="817.1" font-size="44.7" font-weight="bold" fill="#000">0.05</text>
<rect x="1983" y="582.4" width="467.6" height="135.9" fill="#D9D9D9" stroke="#333" stroke-width="1.3"/>
<text x="2216.8" y="634.6" font-size="22.4" font-weight="bold" fill="#111" stroke="#111" stroke-width="0.25" text-anchor="middle">KFA/2*KACHU/4/WBLL1*2/</text>
<text x="2216.8" y="659" font-size="22.4" font-weight="bold" fill="#111" stroke="#111" stroke-width="0.25" text-anchor="middle">KURUKU//KRONSTADF2004/3/</text>
<text x="2216.8" y="683.4" font-size="22.4" font-weight="bold" fill="#111" stroke="#111" stroke-width="0.25" text-anchor="middle">WBLL1*2/BRAMBLING</text>
<rect x="1983" y="718.3" width="467.6" height="435.3" fill="#fff"/>
<g clip-path="url(#c9)" fill="#FF62BC">
<path d="M2035.8 1134 2160 1134 2164.3 1101.8 2164.3 1062.9 2154.5 1023.8 2144.6 994 2144.4 993.5 2144.3 992.9 2139.5 954.5 2128.5 939.8 2114 947.1 2095.1 966 2075.4 995.5 2036.2 1054.3 2031.5 1092.2 2035.8 1134Z"/>
<path d="M2035.8 1134h0M2044.9 1134h0M2054 1134h0M2063.1 1134h0M2072.2 1134h0M2081.3 1134h0M2090.4 1134h0M2099.5 1134h0M2108.6 1134h0M2117.7 1134h0M2126.8 1134h0M2135.9 1134h0M2145 1134h0M2154.1 1134h0M2160.4 1130.9h0M2161.6 1121.9h0M2162.8 1112.9h0M2164 1103.8h0M2164.3 1094.8h0M2164.3 1085.7h0M2164.3 1076.6h0M2164.3 1067.5h0M2163.2 1058.5h0M2161 1049.7h0M2158.8 1040.9h0M2156.6 1032.1h0M2154.3 1023.2h0M2151.4 1014.6h0M2148.6 1006h0M2145.7 997.4h0M2143.8 988.5h0M2142.6 979.5h0M2141.5 970.5h0M2140.4 961.4h0M2138.3 952.8h0M2132.8 945.5h0M2126.8 940.7h0M2118.6 944.8h0M2111.2 949.8h0M2104.8 956.3h0M2098.4 962.7h0M2092.6 969.7h0M2087.6 977.3h0M2082.5 984.8h0M2077.5 992.4h0M2072.4 1000h0M2067.4 1007.5h0M2062.3 1015.1h0M2057.3 1022.7h0M2052.3 1030.2h0M2047.2 1037.8h0M2042.2 1045.4h0M2037.1 1052.9h0M2035.3 1061.7h0M2034.1 1070.7h0M2033 1079.8h0M2031.9 1088.8h0M2032 1097.8h0M2033 1106.9h0M2033.9 1115.9h0M2034.9 1125h0" stroke="#FF62BC" stroke-width="13.2" stroke-linecap="round" fill="none"/>
<path d="M2123.8 920.1h0M2136.2 919h0M2117 925.6h0M2086.1 938.8h0M2095.8 936.2h0M2108.7 937.1h0M2112.9 935.9h0M2127.1 938.3h0M2078.1 949.9h0M2105.4 949.5h0M2134.6 945.2h0M2147.8 944.5h0M2066.9 960.2h0M2074.3 956.4h0M2095.8 958.3h0M2153.9 958.5h0M2078 970.5h0M2086.5 968.9h0M2155.7 970.9h0M2046.8 976.4h0M2052.8 976h0M2063.6 977.9h0M2157.5 975.8h0M2024.4 991.1h0M2046 991.1h0M2054.2 985.3h0M2079.1 984.2h0M2149.4 984.4h0M2157.6 984.4h0M2027.5 999.2h0M2035.1 997.4h0M2065.5 998h0M2147 998.6h0M2154.1 994.3h0M2167.4 998h0M2016.6 1005h0M2027.9 1007.8h0M2034.8 1005.1h0M2044.3 1008.4h0M2053 1009.1h0M2067.4 1007.1h0M2156.9 1006.6h0M2016 1014.3h0M2029.1 1018.5h0M2154.4 1017.9h0M2164.1 1019.4h0M2013.1 1030.6h0M2042.5 1026.8h0M2027.8 1041h0M2037.1 1040.1h0M2167.5 1038.5h0M2177.6 1034.5h0M2008.3 1048.3h0M2024.7 1045.8h0M2036.2 1047.7h0M2168.4 1049.9h0M2176.9 1045.5h0M2187.1 1049.1h0M2006.4 1057h0M2023.2 1056.4h0M2179.2 1054.8h0M2186.8 1057.3h0M2193.9 1055.3h0M2014.2 1064.6h0M2023.7 1066h0M2164.6 1068.6h0M2173.5 1068.3h0M2013.2 1077.3h0M2187.8 1079.4h0M2194.8 1079.5h0M2013.8 1084.9h0M2022.8 1089.4h0M2172.5 1088h0M2194 1086.5h0M2022.4 1097.9h0M2173.6 1099.8h0M2197.6 1094.3h0M2006.6 1105.7h0M2017.4 1108.5h0M2026.1 1105h0M2168.3 1110.6h0M2175.4 1106.1h0M2016.2 1117.9h0M2023.1 1119.7h0M2033.1 1116.4h0M2168.1 1119.4h0M2174.1 1115h0M2183.1 1118.5h0M2018.7 1130.6h0M2026.8 1130.9h0M2169 1124.5h0M2175.4 1126.6h0M2184.4 1125.6h0M2194.8 1126.7h0M2303.6 1055.6h0M2312.6 1060.2h0M2322.2 1057.8h0M2282.9 1067.1h0M2340.8 1069.5h0M2273.2 1076.3h0M2284 1075.8h0M2233.4 1088.4h0M2251.3 1085.7h0M2318.5 1090.1h0M2339.4 1085.9h0M2354.6 1085.4h0M2243.9 1100.5h0M2249 1097.2h0M2332.9 1095.9h0M2240.6 1109.6h0M2258.7 1110.6h0M2272.4 1108.3h0M2351.6 1109.7h0M2273.4 1119.6h0M2311.9 1117.8h0M2230.8 1126.2h0M2253.3 1130.6h0M2281.7 1128.7h0M2289.4 1130.9h0M2320.9 1130.4h0M2341.5 1126.2h0" stroke="#FF62BC" stroke-width="13.2" stroke-linecap="round" fill="none"/>
<path d="M2150.3 828.9h0M2137.4 870h0M2119.3 874.7h0M2150.9 888.8h0M2145.2 894.5h0M2139.6 901.5h0M2092.6 902.3h0M2110.6 899.5h0M2124.1 900.1h0M2125.5 907.1h0M2163 903.7h0M2073.5 922.6h0M2069.2 926.8h0M2155.1 922.6h0M2043.9 940.9h0M2062.2 942.3h0M2074.9 947.9h0M2173.4 945.7h0M2017.7 961.2h0M2031.3 966.2h0M2041.1 971.9h0M2049.5 974.7h0M2056.6 978.9h0M2181.8 969.1h0M2202.9 981.7h0M2229.7 975.5h0M2162.1 984.5h0M2167.7 987.3h0M2300.9 997.2h0M2309.9 1001.4h0M2323.4 993h0M2323.4 1004.2h0M2349.3 997.2h0M2371.2 1002h0M2017.7 1015.5h0M2004.5 1023.9h0M2013 1028.2h0M2191.7 1008.5h0M2187.4 1019.7h0M2202.9 1029h0M2229.7 1019.7h0M2239.5 1012.7h0M2243.7 1018.3h0M2181.8 1034.4h0M2235.3 1040.3h0M2251.6 1047.9h0M2282.6 1045.1h0M2318.3 1040.3h0M2343.6 1049.3h0M2280.3 1059.1h0M2297.2 1054.9h0M2305.7 1061.9h0M2318.3 1069h0M2328.2 1054.9h0M2347.9 1061.9h0M2332.4 1070.4h0M2347.9 1069h0M2340.8 1081.7h0M2394.3 1081.7h0M2198.7 1052.1h0M2212.8 1053.5h0M2229.7 1067.6h0M2235.3 1077.4h0M2212.8 1081.7h0M2251.6 1088.7h0M2263.4 1083.1h0M2280.3 1071.8h0M2288.8 1087.3h0M2302.8 1087.3h0M2004.5 1100h0M2021.4 1095.7h0M2229.7 1094.3h0M2243.7 1101.4h0M2318.3 1095.2h0M2354.3 1104.7h0M2210 1105.6h0M2229.7 1105.6h0M2190.3 1105.6h0M2190.3 1114h0M2256.4 1114h0M2269.1 1112.6h0M2280.3 1107h0M2283.1 1116.8h0M2294.4 1108.4h0M2305.7 1108.4h0M2322.5 1108.4h0M2314.1 1119.7h0M2235.3 1122.5h0M2242.3 1118.2h0M2260.6 1127.5h0M2297.2 1128.1h0M2305.7 1126.7h0M2328.2 1130.9h0M2340.8 1128.9h0M2350.7 1128.9h0M2371.2 1121.1h0M2376 1130.9h0M2389.5 1118.8h0M2173.4 1122.5h0M2190.3 1130.9h0M2207.1 1130.9h0M2031.3 1128.9h0" stroke="#FF62BC" stroke-width="13.2" stroke-linecap="round" fill="none"/>
<path d="M2004.4 1040.5C2008.5 1042.1 2019.3 1047.4 2029.1 1049.9C2038.9 1052.5 2051.9 1055.4 2063.3 1055.8C2074.7 1056.2 2084.6 1054.1 2097.4 1052.4C2110.2 1050.7 2128.7 1046 2140.1 1045.6C2151.5 1045.2 2155.6 1047.3 2165.6 1049.9C2175.6 1052.5 2187 1057.3 2199.8 1061C2212.6 1064.7 2228.2 1068.9 2242.4 1072C2256.6 1075.1 2270.9 1078.1 2285.1 1079.7C2299.3 1081.3 2315 1081.8 2327.8 1081.4C2340.6 1081 2351 1078.9 2361.9 1077.2C2372.8 1075.5 2388.2 1072.2 2393.5 1071.2" stroke="#FF0000" stroke-width="6.6" fill="none" stroke-linejoin="round"/>
</g>
<rect x="1983" y="718.3" width="467.6" height="435.3" fill="none" stroke="#333" stroke-width="1.3"/>
<text x="2261.6" y="764" font-size="44.7" font-weight="bold" fill="#000">N</text>
<text x="2305.3" y="764" font-size="44.7" font-weight="bold" fill="#000">=</text>
<text x="2341.9" y="764" font-size="44.7" font-weight="bold" fill="#000">40</text>
<text x="2234.8" y="820.1" font-size="44.7" font-weight="bold" fill="#000">PA</text>
<text x="2317.3" y="820.1" font-size="44.7" font-weight="bold" fill="#000">=</text>
<text x="2355" y="820.1" font-size="44.7" font-weight="bold" fill="#000">0.47</text>
<line x1="64.8" y1="551.5" x2="70.2" y2="551.5" stroke="#333" stroke-width="1.3"/>
<text x="60.8" y="560.2" font-size="21.5" font-weight="bold" fill="#000" text-anchor="end">0.0</text>
<line x1="64.8" y1="520.8" x2="70.2" y2="520.8" stroke="#333" stroke-width="1.3"/>
<text x="60.8" y="529.6" font-size="21.5" font-weight="bold" fill="#000" text-anchor="end">0.2</text>
<line x1="64.8" y1="490.2" x2="70.2" y2="490.2" stroke="#333" stroke-width="1.3"/>
<text x="60.8" y="498.9" font-size="21.5" font-weight="bold" fill="#000" text-anchor="end">0.4</text>
<line x1="64.8" y1="459.5" x2="70.2" y2="459.5" stroke="#333" stroke-width="1.3"/>
<text x="60.8" y="468.3" font-size="21.5" font-weight="bold" fill="#000" text-anchor="end">0.6</text>
<line x1="64.8" y1="428.9" x2="70.2" y2="428.9" stroke="#333" stroke-width="1.3"/>
<text x="60.8" y="437.6" font-size="21.5" font-weight="bold" fill="#000" text-anchor="end">0.8</text>
<line x1="64.8" y1="398.2" x2="70.2" y2="398.2" stroke="#333" stroke-width="1.3"/>
<text x="60.8" y="407" font-size="21.5" font-weight="bold" fill="#000" text-anchor="end">1.0</text>
<line x1="64.8" y1="367.6" x2="70.2" y2="367.6" stroke="#333" stroke-width="1.3"/>
<text x="60.8" y="376.3" font-size="21.5" font-weight="bold" fill="#000" text-anchor="end">1.2</text>
<line x1="64.8" y1="336.9" x2="70.2" y2="336.9" stroke="#333" stroke-width="1.3"/>
<text x="60.8" y="345.7" font-size="21.5" font-weight="bold" fill="#000" text-anchor="end">1.4</text>
<line x1="64.8" y1="306.3" x2="70.2" y2="306.3" stroke="#333" stroke-width="1.3"/>
<text x="60.8" y="315" font-size="21.5" font-weight="bold" fill="#000" text-anchor="end">1.6</text>
<line x1="64.8" y1="275.6" x2="70.2" y2="275.6" stroke="#333" stroke-width="1.3"/>
<text x="60.8" y="284.4" font-size="21.5" font-weight="bold" fill="#000" text-anchor="end">1.8</text>
<line x1="64.8" y1="245" x2="70.2" y2="245" stroke="#333" stroke-width="1.3"/>
<text x="60.8" y="253.7" font-size="21.5" font-weight="bold" fill="#000" text-anchor="end">2.0</text>
<line x1="64.8" y1="214.3" x2="70.2" y2="214.3" stroke="#333" stroke-width="1.3"/>
<text x="60.8" y="223.1" font-size="21.5" font-weight="bold" fill="#000" text-anchor="end">2.2</text>
<line x1="64.8" y1="183.7" x2="70.2" y2="183.7" stroke="#333" stroke-width="1.3"/>
<text x="60.8" y="192.4" font-size="21.5" font-weight="bold" fill="#000" text-anchor="end">2.4</text>
<line x1="64.8" y1="153" x2="70.2" y2="153" stroke="#333" stroke-width="1.3"/>
<text x="60.8" y="161.7" font-size="21.5" font-weight="bold" fill="#000" text-anchor="end">2.6</text>
<line x1="64.8" y1="1133.5" x2="70.2" y2="1133.5" stroke="#333" stroke-width="1.3"/>
<text x="60.8" y="1142.2" font-size="21.5" font-weight="bold" fill="#000" text-anchor="end">0.0</text>
<line x1="64.8" y1="1102.8" x2="70.2" y2="1102.8" stroke="#333" stroke-width="1.3"/>
<text x="60.8" y="1111.6" font-size="21.5" font-weight="bold" fill="#000" text-anchor="end">0.2</text>
<line x1="64.8" y1="1072.2" x2="70.2" y2="1072.2" stroke="#333" stroke-width="1.3"/>
<text x="60.8" y="1080.9" font-size="21.5" font-weight="bold" fill="#000" text-anchor="end">0.4</text>
<line x1="64.8" y1="1041.5" x2="70.2" y2="1041.5" stroke="#333" stroke-width="1.3"/>
<text x="60.8" y="1050.3" font-size="21.5" font-weight="bold" fill="#000" text-anchor="end">0.6</text>
<line x1="64.8" y1="1010.9" x2="70.2" y2="1010.9" stroke="#333" stroke-width="1.3"/>
<text x="60.8" y="1019.6" font-size="21.5" font-weight="bold" fill="#000" text-anchor="end">0.8</text>
<line x1="64.8" y1="980.2" x2="70.2" y2="980.2" stroke="#333" stroke-width="1.3"/>
<text x="60.8" y="989" font-size="21.5" font-weight="bold" fill="#000" text-anchor="end">1.0</text>
<line x1="64.8" y1="949.6" x2="70.2" y2="949.6" stroke="#333" stroke-width="1.3"/>
<text x="60.8" y="958.3" font-size="21.5" font-weight="bold" fill="#000" text-anchor="end">1.2</text>
<line x1="64.8" y1="918.9" x2="70.2" y2="918.9" stroke="#333" stroke-width="1.3"/>
<text x="60.8" y="927.7" font-size="21.5" font-weight="bold" fill="#000" text-anchor="end">1.4</text>
<line x1="64.8" y1="888.3" x2="70.2" y2="888.3" stroke="#333" stroke-width="1.3"/>
<text x="60.8" y="897" font-size="21.5" font-weight="bold" fill="#000" text-anchor="end">1.6</text>
<line x1="64.8" y1="857.6" x2="70.2" y2="857.6" stroke="#333" stroke-width="1.3"/>
<text x="60.8" y="866.4" font-size="21.5" font-weight="bold" fill="#000" text-anchor="end">1.8</text>
<line x1="64.8" y1="827" x2="70.2" y2="827" stroke="#333" stroke-width="1.3"/>
<text x="60.8" y="835.7" font-size="21.5" font-weight="bold" fill="#000" text-anchor="end">2.0</text>
<line x1="64.8" y1="796.3" x2="70.2" y2="796.3" stroke="#333" stroke-width="1.3"/>
<text x="60.8" y="805.1" font-size="21.5" font-weight="bold" fill="#000" text-anchor="end">2.2</text>
<line x1="64.8" y1="765.7" x2="70.2" y2="765.7" stroke="#333" stroke-width="1.3"/>
<text x="60.8" y="774.4" font-size="21.5" font-weight="bold" fill="#000" text-anchor="end">2.4</text>
<line x1="64.8" y1="735" x2="70.2" y2="735" stroke="#333" stroke-width="1.3"/>
<text x="60.8" y="743.7" font-size="21.5" font-weight="bold" fill="#000" text-anchor="end">2.6</text>
<line x1="91.3" y1="1153.6" x2="91.3" y2="1158.8" stroke="#333" stroke-width="1.3"/>
<text x="91.3" y="1180" font-size="21.5" font-weight="bold" fill="#000" text-anchor="middle">0.0</text>
<line x1="179.8" y1="1153.6" x2="179.8" y2="1158.8" stroke="#333" stroke-width="1.3"/>
<text x="179.8" y="1180" font-size="21.5" font-weight="bold" fill="#000" text-anchor="middle">0.2</text>
<line x1="268.3" y1="1153.6" x2="268.3" y2="1158.8" stroke="#333" stroke-width="1.3"/>
<text x="268.3" y="1180" font-size="21.5" font-weight="bold" fill="#000" text-anchor="middle">0.4</text>
<line x1="356.8" y1="1153.6" x2="356.8" y2="1158.8" stroke="#333" stroke-width="1.3"/>
<text x="356.8" y="1180" font-size="21.5" font-weight="bold" fill="#000" text-anchor="middle">0.6</text>
<line x1="445.3" y1="1153.6" x2="445.3" y2="1158.8" stroke="#333" stroke-width="1.3"/>
<text x="445.3" y="1180" font-size="21.5" font-weight="bold" fill="#000" text-anchor="middle">0.8</text>
<line x1="533.8" y1="1153.6" x2="533.8" y2="1158.8" stroke="#333" stroke-width="1.3"/>
<text x="533.8" y="1180" font-size="21.5" font-weight="bold" fill="#000" text-anchor="middle">1.0</text>
<line x1="569.5" y1="1153.6" x2="569.5" y2="1158.8" stroke="#333" stroke-width="1.3"/>
<text x="569.5" y="1180" font-size="21.5" font-weight="bold" fill="#000" text-anchor="middle">0.0</text>
<line x1="658" y1="1153.6" x2="658" y2="1158.8" stroke="#333" stroke-width="1.3"/>
<text x="658" y="1180" font-size="21.5" font-weight="bold" fill="#000" text-anchor="middle">0.2</text>
<line x1="746.5" y1="1153.6" x2="746.5" y2="1158.8" stroke="#333" stroke-width="1.3"/>
<text x="746.5" y="1180" font-size="21.5" font-weight="bold" fill="#000" text-anchor="middle">0.4</text>
<line x1="835" y1="1153.6" x2="835" y2="1158.8" stroke="#333" stroke-width="1.3"/>
<text x="835" y="1180" font-size="21.5" font-weight="bold" fill="#000" text-anchor="middle">0.6</text>
<line x1="923.5" y1="1153.6" x2="923.5" y2="1158.8" stroke="#333" stroke-width="1.3"/>
<text x="923.5" y="1180" font-size="21.5" font-weight="bold" fill="#000" text-anchor="middle">0.8</text>
<line x1="1012" y1="1153.6" x2="1012" y2="1158.8" stroke="#333" stroke-width="1.3"/>
<text x="1012" y="1180" font-size="21.5" font-weight="bold" fill="#000" text-anchor="middle">1.0</text>
<line x1="1047.7" y1="1153.6" x2="1047.7" y2="1158.8" stroke="#333" stroke-width="1.3"/>
<text x="1047.7" y="1180" font-size="21.5" font-weight="bold" fill="#000" text-anchor="middle">0.0</text>
<line x1="1136.2" y1="1153.6" x2="1136.2" y2="1158.8" stroke="#333" stroke-width="1.3"/>
<text x="1136.2" y="1180" font-size="21.5" font-weight="bold" fill="#000" text-anchor="middle">0.2</text>
<line x1="1224.7" y1="1153.6" x2="1224.7" y2="1158.8" stroke="#333" stroke-width="1.3"/>
<text x="1224.7" y="1180" font-size="21.5" font-weight="bold" fill="#000" text-anchor="middle">0.4</text>
<line x1="1313.2" y1="1153.6" x2="1313.2" y2="1158.8" stroke="#333" stroke-width="1.3"/>
<text x="1313.2" y="1180" font-size="21.5" font-weight="bold" fill="#000" text-anchor="middle">0.6</text>
<line x1="1401.7" y1="1153.6" x2="1401.7" y2="1158.8" stroke="#333" stroke-width="1.3"/>
<text x="1401.7" y="1180" font-size="21.5" font-weight="bold" fill="#000" text-anchor="middle">0.8</text>
<line x1="1490.2" y1="1153.6" x2="1490.2" y2="1158.8" stroke="#333" stroke-width="1.3"/>
<text x="1490.2" y="1180" font-size="21.5" font-weight="bold" fill="#000" text-anchor="middle">1.0</text>
<line x1="1525.9" y1="1153.6" x2="1525.9" y2="1158.8" stroke="#333" stroke-width="1.3"/>
<text x="1525.9" y="1180" font-size="21.5" font-weight="bold" fill="#000" text-anchor="middle">0.0</text>
<line x1="1614.4" y1="1153.6" x2="1614.4" y2="1158.8" stroke="#333" stroke-width="1.3"/>
<text x="1614.4" y="1180" font-size="21.5" font-weight="bold" fill="#000" text-anchor="middle">0.2</text>
<line x1="1702.9" y1="1153.6" x2="1702.9" y2="1158.8" stroke="#333" stroke-width="1.3"/>
<text x="1702.9" y="1180" font-size="21.5" font-weight="bold" fill="#000" text-anchor="middle">0.4</text>
<line x1="1791.4" y1="1153.6" x2="1791.4" y2="1158.8" stroke="#333" stroke-width="1.3"/>
<text x="1791.4" y="1180" font-size="21.5" font-weight="bold" fill="#000" text-anchor="middle">0.6</text>
<line x1="1879.9" y1="1153.6" x2="1879.9" y2="1158.8" stroke="#333" stroke-width="1.3"/>
<text x="1879.9" y="1180" font-size="21.5" font-weight="bold" fill="#000" text-anchor="middle">0.8</text>
<line x1="1968.4" y1="1153.6" x2="1968.4" y2="1158.8" stroke="#333" stroke-width="1.3"/>
<text x="1968.4" y="1180" font-size="21.5" font-weight="bold" fill="#000" text-anchor="middle">1.0</text>
<line x1="2004.1" y1="1153.6" x2="2004.1" y2="1158.8" stroke="#333" stroke-width="1.3"/>
<text x="2004.1" y="1180" font-size="21.5" font-weight="bold" fill="#000" text-anchor="middle">0.0</text>
<line x1="2092.6" y1="1153.6" x2="2092.6" y2="1158.8" stroke="#333" stroke-width="1.3"/>
<text x="2092.6" y="1180" font-size="21.5" font-weight="bold" fill="#000" text-anchor="middle">0.2</text>
<line x1="2181.1" y1="1153.6" x2="2181.1" y2="1158.8" stroke="#333" stroke-width="1.3"/>
<text x="2181.1" y="1180" font-size="21.5" font-weight="bold" fill="#000" text-anchor="middle">0.4</text>
<line x1="2269.6" y1="1153.6" x2="2269.6" y2="1158.8" stroke="#333" stroke-width="1.3"/>
<text x="2269.6" y="1180" font-size="21.5" font-weight="bold" fill="#000" text-anchor="middle">0.6</text>
<line x1="2358.1" y1="1153.6" x2="2358.1" y2="1158.8" stroke="#333" stroke-width="1.3"/>
<text x="2358.1" y="1180" font-size="21.5" font-weight="bold" fill="#000" text-anchor="middle">0.8</text>
<line x1="2446.6" y1="1153.6" x2="2446.6" y2="1158.8" stroke="#333" stroke-width="1.3"/>
<text x="2446.6" y="1180" font-size="21.5" font-weight="bold" fill="#000" text-anchor="middle">1.0</text>
<text x="1257.6" y="1215.4" font-size="29.8" fill="#000" text-anchor="middle">Scaled correlations between the full-sibs estimated from their genetic covariances</text>
<text transform="translate(20.6,643.6) rotate(-90)" x="0" y="0" font-size="29.1" font-weight="bold" fill="#000" text-anchor="middle">Grain yield differences between the full-sibs (t/ha)</text>
</svg></body></html>
